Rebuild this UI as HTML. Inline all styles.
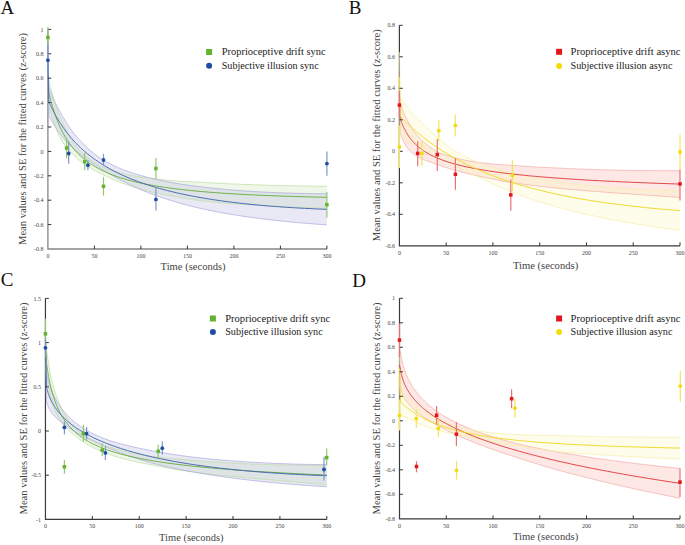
<!DOCTYPE html>
<html><head><meta charset="utf-8"><style>
html,body{margin:0;padding:0;background:#fff;}
svg{display:block;}
text{font-family:"Liberation Serif", serif;}
.tl{font-size:6px;fill:#444;}
.lg{font-size:11px;fill:#222;}
.al{font-size:10.5px;fill:#444;}
.pl{font-size:19px;fill:#111;}
</style></head><body>
<svg width="685" height="545" viewBox="0 0 685 545">
<rect width="685" height="545" fill="#fff"/>
<path d="M47.90,29.40 V249.00 H326.90" fill="none" stroke="#858585" stroke-width="1.3"/>
<polygon points="47.90,74.00 48.83,79.03 48.83,79.05 48.85,79.11 48.87,79.24 48.91,79.43 48.96,79.69 49.03,80.03 49.12,80.44 49.22,80.94 49.34,81.53 49.48,82.19 49.64,82.94 49.82,83.78 50.02,84.70 50.25,85.69 50.49,86.76 50.76,87.91 51.04,89.12 51.36,90.39 51.69,91.71 52.05,93.08 52.43,94.50 52.84,95.96 53.27,97.47 53.72,99.01 54.21,100.59 54.71,102.19 55.25,103.82 55.81,105.48 56.39,107.15 57.01,108.85 57.65,110.56 58.32,112.29 59.01,114.04 59.73,115.82 60.49,117.62 61.27,119.44 62.08,121.29 62.91,123.16 63.78,125.04 64.68,126.93 65.60,128.82 66.56,130.71 67.55,132.59 68.56,134.46 69.61,136.31 70.69,138.11 71.79,139.88 72.93,141.59 74.10,143.22 75.31,144.78 76.54,146.29 77.81,147.77 79.10,149.23 80.43,150.66 81.80,152.05 83.19,153.42 84.62,154.76 86.08,156.06 87.57,157.33 89.10,158.56 90.66,159.75 92.25,160.90 93.88,162.01 95.54,163.07 97.24,164.09 98.97,165.06 100.73,165.97 102.53,166.84 104.37,167.66 106.23,168.44 108.14,169.18 110.08,169.89 112.05,170.56 114.06,171.19 116.11,171.80 118.19,172.39 120.30,172.96 122.46,173.52 124.65,174.05 126.87,174.54 129.13,175.02 131.43,175.46 133.77,175.88 136.14,176.29 138.55,176.68 141.00,177.05 143.48,177.40 146.00,177.73 148.56,178.04 151.15,178.33 153.79,178.63 156.46,178.93 159.17,179.24 161.92,179.56 164.70,179.87 167.53,180.19 170.39,180.49 173.29,180.77 176.23,181.03 179.21,181.25 182.23,181.42 185.29,181.56 188.39,181.69 191.52,181.81 194.70,181.93 197.91,182.08 201.17,182.27 204.46,182.47 207.79,182.66 211.17,182.85 214.58,183.04 218.04,183.22 221.53,183.40 225.07,183.58 228.64,183.75 232.26,183.92 235.92,184.08 239.62,184.24 243.36,184.40 247.14,184.54 250.96,184.69 254.82,184.82 258.72,184.95 262.67,185.08 266.66,185.19 270.69,185.30 274.76,185.40 278.87,185.50 283.02,185.60 287.22,185.69 291.46,185.77 295.74,185.85 300.06,185.93 304.43,186.01 308.84,186.08 313.29,186.15 317.78,186.21 322.32,186.28 326.90,186.34 326.90,208.34 322.32,208.19 317.78,208.05 313.29,207.89 308.84,207.74 304.43,207.57 300.06,207.40 295.74,207.22 291.46,207.04 287.22,206.86 283.02,206.66 278.87,206.46 274.76,206.26 270.69,206.05 266.66,205.83 262.67,205.61 258.72,205.39 254.82,205.16 250.96,204.93 247.14,204.69 243.36,204.44 239.62,204.19 235.92,203.92 232.26,203.65 228.64,203.38 225.07,203.09 221.53,202.79 218.04,202.48 214.58,202.15 211.17,201.82 207.79,201.47 204.46,201.11 201.17,200.74 197.91,200.34 194.70,199.89 191.52,199.39 188.39,198.86 185.29,198.33 182.23,197.79 179.21,197.26 176.23,196.76 173.29,196.27 170.39,195.79 167.53,195.30 164.70,194.81 161.92,194.29 159.17,193.75 156.46,193.17 153.79,192.56 151.15,191.92 148.56,191.26 146.00,190.58 143.48,189.88 141.00,189.18 138.55,188.48 136.14,187.76 133.77,187.02 131.43,186.27 129.13,185.50 126.87,184.73 124.65,183.95 122.46,183.17 120.30,182.37 118.19,181.55 116.11,180.71 114.06,179.85 112.05,178.97 110.08,178.09 108.14,177.20 106.23,176.30 104.37,175.39 102.53,174.49 100.73,173.58 98.97,172.67 97.24,171.76 95.54,170.86 93.88,169.95 92.25,169.03 90.66,168.11 89.10,167.17 87.57,166.22 86.08,165.25 84.62,164.27 83.19,163.26 81.80,162.23 80.43,161.17 79.10,160.09 77.81,158.99 76.54,157.85 75.31,156.69 74.10,155.52 72.93,154.38 71.79,153.26 70.69,152.15 69.61,151.03 68.56,149.90 67.55,148.75 66.56,147.58 65.60,146.37 64.68,145.13 63.78,143.86 62.91,142.55 62.08,141.20 61.27,139.81 60.49,138.39 59.73,136.93 59.01,135.45 58.32,133.95 57.65,132.43 57.01,130.92 56.39,129.41 55.81,127.91 55.25,126.44 54.71,124.99 54.21,123.56 53.72,122.18 53.27,120.83 52.84,119.52 52.43,118.26 52.05,117.06 51.69,115.91 51.36,114.82 51.04,113.80 50.76,112.84 50.49,111.95 50.25,111.12 50.02,110.35 49.82,109.65 49.64,109.01 49.48,108.44 49.34,107.93 49.22,107.49 49.12,107.11 49.03,106.79 48.96,106.53 48.91,106.33 48.87,106.19 48.85,106.10 48.83,106.05 48.83,106.04 47.90,102.00" fill="rgb(205,225,178)" fill-opacity="0.3"/>
<polygon points="47.90,44.00 48.83,87.00 48.83,87.01 48.85,87.04 48.87,87.11 48.91,87.22 48.96,87.38 49.03,87.57 49.12,87.82 49.22,88.11 49.34,88.46 49.48,88.85 49.64,89.30 49.82,89.79 50.02,90.34 50.25,90.94 50.49,91.59 50.76,92.29 51.04,93.04 51.36,93.83 51.69,94.66 52.05,95.52 52.43,96.43 52.84,97.37 53.27,98.35 53.72,99.37 54.21,100.42 54.71,101.51 55.25,102.63 55.81,103.77 56.39,104.95 57.01,106.16 57.65,107.40 58.32,108.66 59.01,109.96 59.73,111.29 60.49,112.66 61.27,114.05 62.08,115.47 62.91,116.92 63.78,118.39 64.68,119.88 65.60,121.38 66.56,122.90 67.55,124.43 68.56,125.97 69.61,127.50 70.69,129.04 71.79,130.57 72.93,132.08 74.10,133.58 75.31,135.05 76.54,136.52 77.81,137.99 79.10,139.46 80.43,140.92 81.80,142.38 83.19,143.83 84.62,145.27 86.08,146.70 87.57,148.11 89.10,149.51 90.66,150.88 92.25,152.22 93.88,153.54 95.54,154.82 97.24,156.06 98.97,157.26 100.73,158.42 102.53,159.54 104.37,160.64 106.23,161.71 108.14,162.75 110.08,163.77 112.05,164.77 114.06,165.74 116.11,166.70 118.19,167.64 120.30,168.56 122.46,169.45 124.65,170.30 126.87,171.12 129.13,171.91 131.43,172.67 133.77,173.40 136.14,174.13 138.55,174.84 141.00,175.55 143.48,176.25 146.00,176.92 148.56,177.59 151.15,178.23 153.79,178.86 156.46,179.48 159.17,180.08 161.92,180.66 164.70,181.23 167.53,181.78 170.39,182.32 173.29,182.84 176.23,183.35 179.21,183.83 182.23,184.30 185.29,184.75 188.39,185.18 191.52,185.61 194.70,186.02 197.91,186.43 201.17,186.84 204.46,187.23 207.79,187.62 211.17,188.00 214.58,188.36 218.04,188.71 221.53,189.05 225.07,189.38 228.64,189.70 232.26,190.01 235.92,190.31 239.62,190.59 243.36,190.86 247.14,191.12 250.96,191.37 254.82,191.61 258.72,191.83 262.67,192.04 266.66,192.24 270.69,192.42 274.76,192.60 278.87,192.76 283.02,192.91 287.22,193.05 291.46,193.18 295.74,193.30 300.06,193.41 304.43,193.50 308.84,193.59 313.29,193.67 317.78,193.74 322.32,193.80 326.90,193.85 326.90,224.84 322.32,224.53 317.78,224.21 313.29,223.88 308.84,223.53 304.43,223.17 300.06,222.80 295.74,222.41 291.46,222.02 287.22,221.60 283.02,221.18 278.87,220.74 274.76,220.29 270.69,219.83 266.66,219.36 262.67,218.87 258.72,218.37 254.82,217.86 250.96,217.34 247.14,216.80 243.36,216.26 239.62,215.69 235.92,215.12 232.26,214.53 228.64,213.92 225.07,213.31 221.53,212.67 218.04,212.03 214.58,211.36 211.17,210.68 207.79,209.99 204.46,209.28 201.17,208.55 197.91,207.81 194.70,207.04 191.52,206.25 188.39,205.43 185.29,204.60 182.23,203.76 179.21,202.91 176.23,202.05 173.29,201.18 170.39,200.30 167.53,199.40 164.70,198.49 161.92,197.57 159.17,196.63 156.46,195.68 153.79,194.71 151.15,193.74 148.56,192.74 146.00,191.74 143.48,190.72 141.00,189.69 138.55,188.64 136.14,187.56 133.77,186.47 131.43,185.36 129.13,184.24 126.87,183.12 124.65,182.00 122.46,180.89 120.30,179.79 118.19,178.68 116.11,177.57 114.06,176.44 112.05,175.31 110.08,174.17 108.14,173.02 106.23,171.87 104.37,170.72 102.53,169.57 100.73,168.42 98.97,167.28 97.24,166.16 95.54,165.05 93.88,163.96 92.25,162.89 90.66,161.82 89.10,160.75 87.57,159.69 86.08,158.63 84.62,157.57 83.19,156.50 81.80,155.43 80.43,154.35 79.10,153.27 77.81,152.17 76.54,151.07 75.31,149.97 74.10,148.86 72.93,147.77 71.79,146.70 70.69,145.65 69.61,144.61 68.56,143.57 67.55,142.54 66.56,141.52 65.60,140.50 64.68,139.48 63.78,138.46 62.91,137.44 62.08,136.43 61.27,135.42 60.49,134.42 59.73,133.42 59.01,132.42 58.32,131.44 57.65,130.46 57.01,129.50 56.39,128.57 55.81,127.66 55.25,126.77 54.71,125.92 54.21,125.09 53.72,124.30 53.27,123.54 52.84,122.82 52.43,122.14 52.05,121.49 51.69,120.88 51.36,120.32 51.04,119.79 50.76,119.31 50.49,118.86 50.25,118.45 50.02,118.08 49.82,117.74 49.64,117.43 49.48,117.16 49.34,116.92 49.22,116.71 49.12,116.54 49.03,116.39 48.96,116.27 48.91,116.18 48.87,116.11 48.85,116.07 48.83,116.04 48.83,116.04 47.90,80.00" fill="rgb(182,182,225)" fill-opacity="0.3"/>
<polyline points="47.90,74.00 48.83,79.03 48.83,79.05 48.85,79.11 48.87,79.24 48.91,79.43 48.96,79.69 49.03,80.03 49.12,80.44 49.22,80.94 49.34,81.53 49.48,82.19 49.64,82.94 49.82,83.78 50.02,84.70 50.25,85.69 50.49,86.76 50.76,87.91 51.04,89.12 51.36,90.39 51.69,91.71 52.05,93.08 52.43,94.50 52.84,95.96 53.27,97.47 53.72,99.01 54.21,100.59 54.71,102.19 55.25,103.82 55.81,105.48 56.39,107.15 57.01,108.85 57.65,110.56 58.32,112.29 59.01,114.04 59.73,115.82 60.49,117.62 61.27,119.44 62.08,121.29 62.91,123.16 63.78,125.04 64.68,126.93 65.60,128.82 66.56,130.71 67.55,132.59 68.56,134.46 69.61,136.31 70.69,138.11 71.79,139.88 72.93,141.59 74.10,143.22 75.31,144.78 76.54,146.29 77.81,147.77 79.10,149.23 80.43,150.66 81.80,152.05 83.19,153.42 84.62,154.76 86.08,156.06 87.57,157.33 89.10,158.56 90.66,159.75 92.25,160.90 93.88,162.01 95.54,163.07 97.24,164.09 98.97,165.06 100.73,165.97 102.53,166.84 104.37,167.66 106.23,168.44 108.14,169.18 110.08,169.89 112.05,170.56 114.06,171.19 116.11,171.80 118.19,172.39 120.30,172.96 122.46,173.52 124.65,174.05 126.87,174.54 129.13,175.02 131.43,175.46 133.77,175.88 136.14,176.29 138.55,176.68 141.00,177.05 143.48,177.40 146.00,177.73 148.56,178.04 151.15,178.33 153.79,178.63 156.46,178.93 159.17,179.24 161.92,179.56 164.70,179.87 167.53,180.19 170.39,180.49 173.29,180.77 176.23,181.03 179.21,181.25 182.23,181.42 185.29,181.56 188.39,181.69 191.52,181.81 194.70,181.93 197.91,182.08 201.17,182.27 204.46,182.47 207.79,182.66 211.17,182.85 214.58,183.04 218.04,183.22 221.53,183.40 225.07,183.58 228.64,183.75 232.26,183.92 235.92,184.08 239.62,184.24 243.36,184.40 247.14,184.54 250.96,184.69 254.82,184.82 258.72,184.95 262.67,185.08 266.66,185.19 270.69,185.30 274.76,185.40 278.87,185.50 283.02,185.60 287.22,185.69 291.46,185.77 295.74,185.85 300.06,185.93 304.43,186.01 308.84,186.08 313.29,186.15 317.78,186.21 322.32,186.28 326.90,186.34" fill="none" stroke="#bcdca4" stroke-width="0.7"/>
<polyline points="47.90,102.00 48.83,106.04 48.83,106.05 48.85,106.10 48.87,106.19 48.91,106.33 48.96,106.53 49.03,106.79 49.12,107.11 49.22,107.49 49.34,107.93 49.48,108.44 49.64,109.01 49.82,109.65 50.02,110.35 50.25,111.12 50.49,111.95 50.76,112.84 51.04,113.80 51.36,114.82 51.69,115.91 52.05,117.06 52.43,118.26 52.84,119.52 53.27,120.83 53.72,122.18 54.21,123.56 54.71,124.99 55.25,126.44 55.81,127.91 56.39,129.41 57.01,130.92 57.65,132.43 58.32,133.95 59.01,135.45 59.73,136.93 60.49,138.39 61.27,139.81 62.08,141.20 62.91,142.55 63.78,143.86 64.68,145.13 65.60,146.37 66.56,147.58 67.55,148.75 68.56,149.90 69.61,151.03 70.69,152.15 71.79,153.26 72.93,154.38 74.10,155.52 75.31,156.69 76.54,157.85 77.81,158.99 79.10,160.09 80.43,161.17 81.80,162.23 83.19,163.26 84.62,164.27 86.08,165.25 87.57,166.22 89.10,167.17 90.66,168.11 92.25,169.03 93.88,169.95 95.54,170.86 97.24,171.76 98.97,172.67 100.73,173.58 102.53,174.49 104.37,175.39 106.23,176.30 108.14,177.20 110.08,178.09 112.05,178.97 114.06,179.85 116.11,180.71 118.19,181.55 120.30,182.37 122.46,183.17 124.65,183.95 126.87,184.73 129.13,185.50 131.43,186.27 133.77,187.02 136.14,187.76 138.55,188.48 141.00,189.18 143.48,189.88 146.00,190.58 148.56,191.26 151.15,191.92 153.79,192.56 156.46,193.17 159.17,193.75 161.92,194.29 164.70,194.81 167.53,195.30 170.39,195.79 173.29,196.27 176.23,196.76 179.21,197.26 182.23,197.79 185.29,198.33 188.39,198.86 191.52,199.39 194.70,199.89 197.91,200.34 201.17,200.74 204.46,201.11 207.79,201.47 211.17,201.82 214.58,202.15 218.04,202.48 221.53,202.79 225.07,203.09 228.64,203.38 232.26,203.65 235.92,203.92 239.62,204.19 243.36,204.44 247.14,204.69 250.96,204.93 254.82,205.16 258.72,205.39 262.67,205.61 266.66,205.83 270.69,206.05 274.76,206.26 278.87,206.46 283.02,206.66 287.22,206.86 291.46,207.04 295.74,207.22 300.06,207.40 304.43,207.57 308.84,207.74 313.29,207.89 317.78,208.05 322.32,208.19 326.90,208.34" fill="none" stroke="#bcdca4" stroke-width="0.7"/>
<polyline points="47.90,44.00 48.83,87.00 48.83,87.01 48.85,87.04 48.87,87.11 48.91,87.22 48.96,87.38 49.03,87.57 49.12,87.82 49.22,88.11 49.34,88.46 49.48,88.85 49.64,89.30 49.82,89.79 50.02,90.34 50.25,90.94 50.49,91.59 50.76,92.29 51.04,93.04 51.36,93.83 51.69,94.66 52.05,95.52 52.43,96.43 52.84,97.37 53.27,98.35 53.72,99.37 54.21,100.42 54.71,101.51 55.25,102.63 55.81,103.77 56.39,104.95 57.01,106.16 57.65,107.40 58.32,108.66 59.01,109.96 59.73,111.29 60.49,112.66 61.27,114.05 62.08,115.47 62.91,116.92 63.78,118.39 64.68,119.88 65.60,121.38 66.56,122.90 67.55,124.43 68.56,125.97 69.61,127.50 70.69,129.04 71.79,130.57 72.93,132.08 74.10,133.58 75.31,135.05 76.54,136.52 77.81,137.99 79.10,139.46 80.43,140.92 81.80,142.38 83.19,143.83 84.62,145.27 86.08,146.70 87.57,148.11 89.10,149.51 90.66,150.88 92.25,152.22 93.88,153.54 95.54,154.82 97.24,156.06 98.97,157.26 100.73,158.42 102.53,159.54 104.37,160.64 106.23,161.71 108.14,162.75 110.08,163.77 112.05,164.77 114.06,165.74 116.11,166.70 118.19,167.64 120.30,168.56 122.46,169.45 124.65,170.30 126.87,171.12 129.13,171.91 131.43,172.67 133.77,173.40 136.14,174.13 138.55,174.84 141.00,175.55 143.48,176.25 146.00,176.92 148.56,177.59 151.15,178.23 153.79,178.86 156.46,179.48 159.17,180.08 161.92,180.66 164.70,181.23 167.53,181.78 170.39,182.32 173.29,182.84 176.23,183.35 179.21,183.83 182.23,184.30 185.29,184.75 188.39,185.18 191.52,185.61 194.70,186.02 197.91,186.43 201.17,186.84 204.46,187.23 207.79,187.62 211.17,188.00 214.58,188.36 218.04,188.71 221.53,189.05 225.07,189.38 228.64,189.70 232.26,190.01 235.92,190.31 239.62,190.59 243.36,190.86 247.14,191.12 250.96,191.37 254.82,191.61 258.72,191.83 262.67,192.04 266.66,192.24 270.69,192.42 274.76,192.60 278.87,192.76 283.02,192.91 287.22,193.05 291.46,193.18 295.74,193.30 300.06,193.41 304.43,193.50 308.84,193.59 313.29,193.67 317.78,193.74 322.32,193.80 326.90,193.85" fill="none" stroke="#a8a8dc" stroke-width="0.7"/>
<polyline points="47.90,80.00 48.83,116.04 48.83,116.04 48.85,116.07 48.87,116.11 48.91,116.18 48.96,116.27 49.03,116.39 49.12,116.54 49.22,116.71 49.34,116.92 49.48,117.16 49.64,117.43 49.82,117.74 50.02,118.08 50.25,118.45 50.49,118.86 50.76,119.31 51.04,119.79 51.36,120.32 51.69,120.88 52.05,121.49 52.43,122.14 52.84,122.82 53.27,123.54 53.72,124.30 54.21,125.09 54.71,125.92 55.25,126.77 55.81,127.66 56.39,128.57 57.01,129.50 57.65,130.46 58.32,131.44 59.01,132.42 59.73,133.42 60.49,134.42 61.27,135.42 62.08,136.43 62.91,137.44 63.78,138.46 64.68,139.48 65.60,140.50 66.56,141.52 67.55,142.54 68.56,143.57 69.61,144.61 70.69,145.65 71.79,146.70 72.93,147.77 74.10,148.86 75.31,149.97 76.54,151.07 77.81,152.17 79.10,153.27 80.43,154.35 81.80,155.43 83.19,156.50 84.62,157.57 86.08,158.63 87.57,159.69 89.10,160.75 90.66,161.82 92.25,162.89 93.88,163.96 95.54,165.05 97.24,166.16 98.97,167.28 100.73,168.42 102.53,169.57 104.37,170.72 106.23,171.87 108.14,173.02 110.08,174.17 112.05,175.31 114.06,176.44 116.11,177.57 118.19,178.68 120.30,179.79 122.46,180.89 124.65,182.00 126.87,183.12 129.13,184.24 131.43,185.36 133.77,186.47 136.14,187.56 138.55,188.64 141.00,189.69 143.48,190.72 146.00,191.74 148.56,192.74 151.15,193.74 153.79,194.71 156.46,195.68 159.17,196.63 161.92,197.57 164.70,198.49 167.53,199.40 170.39,200.30 173.29,201.18 176.23,202.05 179.21,202.91 182.23,203.76 185.29,204.60 188.39,205.43 191.52,206.25 194.70,207.04 197.91,207.81 201.17,208.55 204.46,209.28 207.79,209.99 211.17,210.68 214.58,211.36 218.04,212.03 221.53,212.67 225.07,213.31 228.64,213.92 232.26,214.53 235.92,215.12 239.62,215.69 243.36,216.26 247.14,216.80 250.96,217.34 254.82,217.86 258.72,218.37 262.67,218.87 266.66,219.36 270.69,219.83 274.76,220.29 278.87,220.74 283.02,221.18 287.22,221.60 291.46,222.02 295.74,222.41 300.06,222.80 304.43,223.17 308.84,223.53 313.29,223.88 317.78,224.21 322.32,224.53 326.90,224.84" fill="none" stroke="#a8a8dc" stroke-width="0.7"/>
<polyline points="47.90,88.00 48.83,92.53 48.83,92.55 48.85,92.60 48.87,92.71 48.91,92.88 48.96,93.11 49.03,93.41 49.12,93.78 49.22,94.22 49.34,94.73 49.48,95.32 49.64,95.98 49.82,96.71 50.02,97.52 50.25,98.40 50.49,99.36 50.76,100.37 51.04,101.46 51.36,102.60 51.69,103.81 52.05,105.07 52.43,106.38 52.84,107.74 53.27,109.15 53.72,110.59 54.21,112.08 54.71,113.59 55.25,115.13 55.81,116.70 56.39,118.28 57.01,119.88 57.65,121.50 58.32,123.12 59.01,124.75 59.73,126.38 60.49,128.00 61.27,129.63 62.08,131.24 62.91,132.85 63.78,134.45 64.68,136.03 65.60,137.60 66.56,139.14 67.55,140.67 68.56,142.18 69.61,143.67 70.69,145.13 71.79,146.57 72.93,147.98 74.10,149.37 75.31,150.73 76.54,152.07 77.81,153.38 79.10,154.66 80.43,155.91 81.80,157.14 83.19,158.34 84.62,159.51 86.08,160.66 87.57,161.77 89.10,162.86 90.66,163.93 92.25,164.97 93.88,165.98 95.54,166.97 97.24,167.93 98.97,168.86 100.73,169.78 102.53,170.66 104.37,171.53 106.23,172.37 108.14,173.19 110.08,173.99 112.05,174.76 114.06,175.52 116.11,176.25 118.19,176.97 120.30,177.66 122.46,178.34 124.65,179.00 126.87,179.64 129.13,180.26 131.43,180.86 133.77,181.45 136.14,182.02 138.55,182.58 141.00,183.12 143.48,183.64 146.00,184.15 148.56,184.65 151.15,185.13 153.79,185.60 156.46,186.05 159.17,186.49 161.92,186.92 164.70,187.34 167.53,187.75 170.39,188.14 173.29,188.52 176.23,188.89 179.21,189.25 182.23,189.60 185.29,189.95 188.39,190.28 191.52,190.60 194.70,190.91 197.91,191.21 201.17,191.50 204.46,191.79 207.79,192.07 211.17,192.34 214.58,192.60 218.04,192.85 221.53,193.09 225.07,193.33 228.64,193.56 232.26,193.79 235.92,194.00 239.62,194.21 243.36,194.42 247.14,194.62 250.96,194.81 254.82,194.99 258.72,195.17 262.67,195.34 266.66,195.51 270.69,195.67 274.76,195.83 278.87,195.98 283.02,196.13 287.22,196.27 291.46,196.41 295.74,196.54 300.06,196.67 304.43,196.79 308.84,196.91 313.29,197.02 317.78,197.13 322.32,197.24 326.90,197.34" fill="none" stroke="#6cb248" stroke-width="1.0" stroke-linejoin="round"/>
<polyline points="47.90,62.00 48.83,101.52 48.83,101.52 48.85,101.55 48.87,101.61 48.91,101.70 48.96,101.82 49.03,101.98 49.12,102.18 49.22,102.41 49.34,102.69 49.48,103.01 49.64,103.37 49.82,103.77 50.02,104.21 50.25,104.70 50.49,105.23 50.76,105.80 51.04,106.42 51.36,107.07 51.69,107.77 52.05,108.51 52.43,109.28 52.84,110.10 53.27,110.95 53.72,111.84 54.21,112.76 54.71,113.71 55.25,114.70 55.81,115.72 56.39,116.76 57.01,117.83 57.65,118.93 58.32,120.05 59.01,121.19 59.73,122.36 60.49,123.54 61.27,124.74 62.08,125.95 62.91,127.18 63.78,128.42 64.68,129.68 65.60,130.94 66.56,132.21 67.55,133.49 68.56,134.77 69.61,136.06 70.69,137.35 71.79,138.64 72.93,139.93 74.10,141.22 75.31,142.51 76.54,143.80 77.81,145.08 79.10,146.36 80.43,147.63 81.80,148.90 83.19,150.16 84.62,151.42 86.08,152.66 87.57,153.90 89.10,155.13 90.66,156.35 92.25,157.55 93.88,158.75 95.54,159.94 97.24,161.11 98.97,162.27 100.73,163.42 102.53,164.56 104.37,165.68 106.23,166.79 108.14,167.89 110.08,168.97 112.05,170.04 114.06,171.09 116.11,172.13 118.19,173.16 120.30,174.17 122.46,175.17 124.65,176.15 126.87,177.12 129.13,178.07 131.43,179.01 133.77,179.94 136.14,180.85 138.55,181.74 141.00,182.62 143.48,183.48 146.00,184.33 148.56,185.17 151.15,185.98 153.79,186.79 156.46,187.58 159.17,188.35 161.92,189.11 164.70,189.86 167.53,190.59 170.39,191.31 173.29,192.01 176.23,192.70 179.21,193.37 182.23,194.03 185.29,194.68 188.39,195.31 191.52,195.93 194.70,196.53 197.91,197.12 201.17,197.69 204.46,198.26 207.79,198.80 211.17,199.34 214.58,199.86 218.04,200.37 221.53,200.86 225.07,201.35 228.64,201.81 232.26,202.27 235.92,202.71 239.62,203.14 243.36,203.56 247.14,203.96 250.96,204.35 254.82,204.73 258.72,205.10 262.67,205.46 266.66,205.80 270.69,206.13 274.76,206.45 278.87,206.75 283.02,207.05 287.22,207.33 291.46,207.60 295.74,207.86 300.06,208.10 304.43,208.34 308.84,208.56 313.29,208.77 317.78,208.98 322.32,209.17 326.90,209.34" fill="none" stroke="#4a6cb3" stroke-width="1.0" stroke-linejoin="round"/>
<text x="43.50" y="31.50" text-anchor="end" class="tl">1</text>
<text x="43.50" y="55.90" text-anchor="end" class="tl">0.8</text>
<text x="43.50" y="80.30" text-anchor="end" class="tl">0.6</text>
<text x="43.50" y="104.70" text-anchor="end" class="tl">0.4</text>
<text x="43.50" y="129.10" text-anchor="end" class="tl">0.2</text>
<text x="43.50" y="153.50" text-anchor="end" class="tl">0</text>
<text x="43.50" y="177.90" text-anchor="end" class="tl">-0.2</text>
<text x="43.50" y="202.30" text-anchor="end" class="tl">-0.4</text>
<text x="43.50" y="226.70" text-anchor="end" class="tl">-0.6</text>
<text x="43.50" y="251.10" text-anchor="end" class="tl">-0.8</text>
<text x="47.90" y="257.90" text-anchor="middle" class="tl">0</text>
<text x="94.40" y="257.90" text-anchor="middle" class="tl">50</text>
<text x="140.90" y="257.90" text-anchor="middle" class="tl">100</text>
<text x="187.40" y="257.90" text-anchor="middle" class="tl">150</text>
<text x="233.90" y="257.90" text-anchor="middle" class="tl">200</text>
<text x="280.40" y="257.90" text-anchor="middle" class="tl">250</text>
<text x="326.90" y="257.90" text-anchor="middle" class="tl">300</text>
<path d="M47.90,29.40 h3.4 M47.90,53.80 h3.4 M47.90,78.20 h3.4 M47.90,102.60 h3.4 M47.90,127.00 h3.4 M47.90,151.40 h3.4 M47.90,175.80 h3.4 M47.90,200.20 h3.4 M47.90,224.60 h3.4 M94.40,249.00 v-3.4 M140.90,249.00 v-3.4 M187.40,249.00 v-3.4 M233.90,249.00 v-3.4 M280.40,249.00 v-3.4 M326.90,249.00 v-3.4" stroke="#333" stroke-width="1" fill="none"/>
<line x1="47.90" y1="27.00" x2="47.90" y2="45.60" stroke="#8fc870" stroke-width="1.2"/>
<line x1="66.60" y1="138.00" x2="66.60" y2="158.30" stroke="#8fc870" stroke-width="1.2"/>
<line x1="84.70" y1="152.80" x2="84.70" y2="170.20" stroke="#8fc870" stroke-width="1.2"/>
<line x1="103.50" y1="177.20" x2="103.50" y2="195.60" stroke="#8fc870" stroke-width="1.2"/>
<line x1="155.90" y1="158.10" x2="155.90" y2="178.60" stroke="#8fc870" stroke-width="1.2"/>
<line x1="326.90" y1="192.10" x2="326.90" y2="217.40" stroke="#8fc870" stroke-width="1.2"/>
<line x1="47.90" y1="45.60" x2="47.90" y2="75.00" stroke="#7c97cc" stroke-width="1.2"/>
<line x1="68.70" y1="141.40" x2="68.70" y2="163.80" stroke="#7c97cc" stroke-width="1.2"/>
<line x1="87.90" y1="160.10" x2="87.90" y2="170.20" stroke="#7c97cc" stroke-width="1.2"/>
<line x1="103.50" y1="153.80" x2="103.50" y2="166.00" stroke="#7c97cc" stroke-width="1.2"/>
<line x1="155.90" y1="187.90" x2="155.90" y2="210.40" stroke="#7c97cc" stroke-width="1.2"/>
<line x1="326.90" y1="151.60" x2="326.90" y2="175.70" stroke="#7c97cc" stroke-width="1.2"/>
<rect x="46.15" y="35.65" width="3.5" height="3.5" fill="#63b32e"/>
<rect x="64.85" y="146.25" width="3.5" height="3.5" fill="#63b32e"/>
<rect x="82.95" y="159.85" width="3.5" height="3.5" fill="#63b32e"/>
<rect x="101.75" y="184.55" width="3.5" height="3.5" fill="#63b32e"/>
<rect x="154.15" y="166.75" width="3.5" height="3.5" fill="#63b32e"/>
<rect x="325.15" y="202.95" width="3.5" height="3.5" fill="#63b32e"/>
<circle cx="47.90" cy="60.20" r="1.9" fill="#1f4da5"/>
<circle cx="68.70" cy="153.50" r="1.9" fill="#1f4da5"/>
<circle cx="87.90" cy="165.20" r="1.9" fill="#1f4da5"/>
<circle cx="103.50" cy="160.00" r="1.9" fill="#1f4da5"/>
<circle cx="155.90" cy="199.40" r="1.9" fill="#1f4da5"/>
<circle cx="326.90" cy="163.60" r="1.9" fill="#1f4da5"/>
<rect x="206.10" y="49.00" width="6" height="6" fill="#63b32e"/>
<text x="221.70" y="55.10" class="lg" textLength="104" lengthAdjust="spacingAndGlyphs">Proprioceptive drift sync</text>
<circle cx="209.10" cy="65.80" r="3" fill="#1f4da5"/>
<text x="221.70" y="68.90" class="lg" textLength="97" lengthAdjust="spacingAndGlyphs">Subjective illusion sync</text>
<text x="160.60" y="270.00" class="al" textLength="65" lengthAdjust="spacingAndGlyphs">Time (seconds)</text>
<text transform="translate(26.00,245.00) rotate(-90)" class="al" textLength="212" lengthAdjust="spacingAndGlyphs">Mean values and SE for the fitted curves (z-score)</text>
<text x="0.60" y="14.20" class="pl">A</text>
<path d="M399.40,25.30 V245.80 H680.00" fill="none" stroke="#3a3a3a" stroke-width="1.2"/>
<polygon points="399.40,87.00 400.33,103.82 400.33,103.83 400.35,103.87 400.37,103.94 400.41,104.06 400.46,104.23 400.53,104.44 400.62,104.70 400.72,105.01 400.85,105.37 400.99,105.79 401.15,106.25 401.33,106.77 401.53,107.33 401.75,107.94 402.00,108.60 402.27,109.30 402.56,110.04 402.87,110.82 403.21,111.64 403.57,112.49 403.95,113.38 404.36,114.29 404.79,115.23 405.25,116.20 405.74,117.18 406.25,118.19 406.78,119.21 407.35,120.25 407.94,121.32 408.55,122.44 409.20,123.59 409.87,124.76 410.57,125.96 411.30,127.17 412.05,128.38 412.84,129.59 413.65,130.77 414.49,131.92 415.37,133.06 416.27,134.19 417.20,135.32 418.16,136.44 419.15,137.54 420.18,138.63 421.23,139.69 422.31,140.73 423.43,141.74 424.57,142.75 425.75,143.76 426.96,144.76 428.20,145.76 429.47,146.74 430.78,147.70 432.11,148.64 433.48,149.54 434.89,150.40 436.32,151.22 437.79,151.97 439.29,152.65 440.83,153.26 442.40,153.85 444.00,154.42 445.64,154.98 447.31,155.53 449.02,156.07 450.76,156.59 452.53,157.10 454.34,157.60 456.19,158.09 458.06,158.57 459.98,159.04 461.93,159.49 463.91,159.92 465.94,160.34 467.99,160.74 470.09,161.12 472.22,161.48 474.38,161.83 476.58,162.16 478.82,162.48 481.10,162.78 483.41,163.07 485.76,163.34 488.14,163.61 490.57,163.87 493.03,164.09 495.52,164.27 498.06,164.42 500.63,164.57 503.24,164.74 505.89,164.93 508.58,165.13 511.30,165.33 514.07,165.53 516.87,165.73 519.71,165.92 522.59,166.12 525.51,166.32 528.47,166.51 531.46,166.69 534.50,166.88 537.57,167.05 540.69,167.23 543.84,167.39 547.04,167.56 550.27,167.72 553.54,167.88 556.86,168.04 560.21,168.19 563.60,168.34 567.04,168.49 570.51,168.64 574.03,168.79 577.58,168.94 581.18,169.08 584.82,169.23 588.50,169.37 592.21,169.50 595.98,169.62 599.78,169.73 603.62,169.84 607.51,169.94 611.43,170.04 615.40,170.12 619.41,170.21 623.46,170.28 627.56,170.35 631.69,170.42 635.87,170.48 640.09,170.53 644.36,170.57 648.66,170.61 653.01,170.64 657.40,170.67 661.83,170.69 666.31,170.70 670.83,170.70 675.39,170.70 680.00,170.69 680.00,197.49 675.39,197.17 670.83,196.85 666.31,196.54 661.83,196.23 657.40,195.92 653.01,195.62 648.66,195.32 644.36,195.02 640.09,194.72 635.87,194.42 631.69,194.12 627.56,193.82 623.46,193.53 619.41,193.23 615.40,192.94 611.43,192.64 607.51,192.35 603.62,192.06 599.78,191.76 595.98,191.47 592.21,191.17 588.50,190.89 584.82,190.60 581.18,190.31 577.58,190.02 574.03,189.72 570.51,189.42 567.04,189.10 563.60,188.78 560.21,188.46 556.86,188.13 553.54,187.79 550.27,187.45 547.04,187.10 543.84,186.75 540.69,186.39 537.57,186.03 534.50,185.66 531.46,185.29 528.47,184.91 525.51,184.53 522.59,184.14 519.71,183.74 516.87,183.34 514.07,182.92 511.30,182.50 508.58,182.06 505.89,181.61 503.24,181.14 500.63,180.63 498.06,180.10 495.52,179.56 493.03,179.03 490.57,178.52 488.14,178.04 485.76,177.56 483.41,177.07 481.10,176.58 478.82,176.09 476.58,175.59 474.38,175.10 472.22,174.60 470.09,174.11 467.99,173.61 465.94,173.12 463.91,172.62 461.93,172.13 459.98,171.64 458.06,171.14 456.19,170.63 454.34,170.12 452.53,169.59 450.76,169.06 449.02,168.52 447.31,167.96 445.64,167.40 444.00,166.83 442.40,166.25 440.83,165.66 439.29,165.07 437.79,164.52 436.32,164.02 434.89,163.56 433.48,163.12 432.11,162.70 430.78,162.28 429.47,161.87 428.20,161.44 426.96,161.00 425.75,160.55 424.57,160.07 423.43,159.56 422.31,159.03 421.23,158.51 420.18,157.98 419.15,157.45 418.16,156.90 417.20,156.35 416.27,155.78 415.37,155.20 414.49,154.61 413.65,153.99 412.84,153.40 412.05,152.81 411.30,152.21 410.57,151.59 409.87,150.96 409.20,150.29 408.55,149.59 407.94,148.86 407.35,148.09 406.78,147.30 406.25,146.49 405.74,145.69 405.25,144.89 404.79,144.09 404.36,143.30 403.95,142.53 403.57,141.77 403.21,141.02 402.87,140.30 402.56,139.60 402.27,138.93 402.00,138.29 401.75,137.69 401.53,137.12 401.33,136.60 401.15,136.12 400.99,135.68 400.85,135.28 400.72,134.94 400.62,134.64 400.53,134.39 400.46,134.19 400.41,134.03 400.37,133.91 400.35,133.84 400.33,133.80 400.33,133.79 399.40,103.00" fill="rgb(249,178,172)" fill-opacity="0.3"/>
<polygon points="399.40,52.00 400.33,96.77 400.33,96.78 400.35,96.80 400.37,96.84 400.41,96.90 400.46,96.98 400.53,97.09 400.62,97.23 400.72,97.39 400.85,97.59 400.99,97.81 401.15,98.06 401.33,98.34 401.53,98.66 401.75,99.00 402.00,99.38 402.27,99.80 402.56,100.24 402.87,100.72 403.21,101.23 403.57,101.77 403.95,102.34 404.36,102.95 404.79,103.58 405.25,104.24 405.74,104.93 406.25,105.65 406.78,106.39 407.35,107.15 407.94,107.93 408.55,108.72 409.20,109.52 409.87,110.34 410.57,111.16 411.30,111.99 412.05,112.84 412.84,113.71 413.65,114.59 414.49,115.48 415.37,116.39 416.27,117.31 417.20,118.25 418.16,119.20 419.15,120.17 420.18,121.15 421.23,122.16 422.31,123.18 423.43,124.23 424.57,125.31 425.75,126.42 426.96,127.57 428.20,128.76 429.47,129.99 430.78,131.25 432.11,132.54 433.48,133.86 434.89,135.18 436.32,136.51 437.79,137.83 439.29,139.12 440.83,140.39 442.40,141.66 444.00,142.93 445.64,144.21 447.31,145.48 449.02,146.73 450.76,147.96 452.53,149.17 454.34,150.33 456.19,151.45 458.06,152.57 459.98,153.68 461.93,154.78 463.91,155.86 465.94,156.93 467.99,157.98 470.09,159.00 472.22,159.98 474.38,160.93 476.58,161.85 478.82,162.73 481.10,163.59 483.41,164.43 485.76,165.25 488.14,166.06 490.57,166.86 493.03,167.65 495.52,168.42 498.06,169.15 500.63,169.86 503.24,170.55 505.89,171.23 508.58,171.91 511.30,172.59 514.07,173.26 516.87,173.92 519.71,174.57 522.59,175.20 525.51,175.83 528.47,176.45 531.46,177.05 534.50,177.65 537.57,178.23 540.69,178.81 543.84,179.38 547.04,179.94 550.27,180.49 553.54,181.03 556.86,181.56 560.21,182.07 563.60,182.57 567.04,183.05 570.51,183.51 574.03,183.95 577.58,184.38 581.18,184.78 584.82,185.18 588.50,185.56 592.21,185.93 595.98,186.29 599.78,186.65 603.62,186.99 607.51,187.31 611.43,187.63 615.40,187.93 619.41,188.21 623.46,188.49 627.56,188.75 631.69,189.00 635.87,189.24 640.09,189.46 644.36,189.68 648.66,189.88 653.01,190.07 657.40,190.25 661.83,190.43 666.31,190.59 670.83,190.74 675.39,190.88 680.00,191.01 680.00,230.21 675.39,229.63 670.83,229.05 666.31,228.45 661.83,227.83 657.40,227.21 653.01,226.57 648.66,225.92 644.36,225.26 640.09,224.58 635.87,223.90 631.69,223.20 627.56,222.49 623.46,221.77 619.41,221.04 615.40,220.29 611.43,219.54 607.51,218.77 603.62,218.00 599.78,217.21 595.98,216.41 592.21,215.60 588.50,214.77 584.82,213.92 581.18,213.07 577.58,212.20 574.03,211.33 570.51,210.45 567.04,209.56 563.60,208.67 560.21,207.78 556.86,206.87 553.54,205.95 550.27,205.02 547.04,204.08 543.84,203.13 540.69,202.16 537.57,201.18 534.50,200.18 531.46,199.17 528.47,198.15 525.51,197.11 522.59,196.07 519.71,195.01 516.87,193.95 514.07,192.87 511.30,191.79 508.58,190.69 505.89,189.57 503.24,188.44 500.63,187.31 498.06,186.17 495.52,185.03 493.03,183.91 490.57,182.81 488.14,181.70 485.76,180.58 483.41,179.46 481.10,178.34 478.82,177.24 476.58,176.14 474.38,175.07 472.22,174.02 470.09,173.00 467.99,172.00 465.94,171.03 463.91,170.07 461.93,169.12 459.98,168.18 458.06,167.25 456.19,166.33 454.34,165.40 452.53,164.52 450.76,163.68 449.02,162.88 447.31,162.09 445.64,161.33 444.00,160.58 442.40,159.84 440.83,159.10 439.29,158.37 437.79,157.68 436.32,157.02 434.89,156.39 433.48,155.76 432.11,155.15 430.78,154.53 429.47,153.90 428.20,153.25 426.96,152.59 425.75,151.90 424.57,151.20 423.43,150.50 422.31,149.79 421.23,149.09 420.18,148.40 419.15,147.71 418.16,147.04 417.20,146.38 416.27,145.74 415.37,145.12 414.49,144.52 413.65,143.94 412.84,143.38 412.05,142.85 411.30,142.35 410.57,141.86 409.87,141.41 409.20,140.98 408.55,140.59 407.94,140.23 407.35,139.90 406.78,139.59 406.25,139.30 405.74,139.03 405.25,138.79 404.79,138.56 404.36,138.34 403.95,138.14 403.57,137.95 403.21,137.78 402.87,137.62 402.56,137.47 402.27,137.33 402.00,137.21 401.75,137.09 401.53,136.98 401.33,136.89 401.15,136.80 400.99,136.72 400.85,136.66 400.72,136.60 400.62,136.55 400.53,136.51 400.46,136.47 400.41,136.45 400.37,136.43 400.35,136.42 400.33,136.41 400.33,136.41 399.40,102.00" fill="rgb(252,248,188)" fill-opacity="0.3"/>
<polyline points="399.40,87.00 400.33,103.82 400.33,103.83 400.35,103.87 400.37,103.94 400.41,104.06 400.46,104.23 400.53,104.44 400.62,104.70 400.72,105.01 400.85,105.37 400.99,105.79 401.15,106.25 401.33,106.77 401.53,107.33 401.75,107.94 402.00,108.60 402.27,109.30 402.56,110.04 402.87,110.82 403.21,111.64 403.57,112.49 403.95,113.38 404.36,114.29 404.79,115.23 405.25,116.20 405.74,117.18 406.25,118.19 406.78,119.21 407.35,120.25 407.94,121.32 408.55,122.44 409.20,123.59 409.87,124.76 410.57,125.96 411.30,127.17 412.05,128.38 412.84,129.59 413.65,130.77 414.49,131.92 415.37,133.06 416.27,134.19 417.20,135.32 418.16,136.44 419.15,137.54 420.18,138.63 421.23,139.69 422.31,140.73 423.43,141.74 424.57,142.75 425.75,143.76 426.96,144.76 428.20,145.76 429.47,146.74 430.78,147.70 432.11,148.64 433.48,149.54 434.89,150.40 436.32,151.22 437.79,151.97 439.29,152.65 440.83,153.26 442.40,153.85 444.00,154.42 445.64,154.98 447.31,155.53 449.02,156.07 450.76,156.59 452.53,157.10 454.34,157.60 456.19,158.09 458.06,158.57 459.98,159.04 461.93,159.49 463.91,159.92 465.94,160.34 467.99,160.74 470.09,161.12 472.22,161.48 474.38,161.83 476.58,162.16 478.82,162.48 481.10,162.78 483.41,163.07 485.76,163.34 488.14,163.61 490.57,163.87 493.03,164.09 495.52,164.27 498.06,164.42 500.63,164.57 503.24,164.74 505.89,164.93 508.58,165.13 511.30,165.33 514.07,165.53 516.87,165.73 519.71,165.92 522.59,166.12 525.51,166.32 528.47,166.51 531.46,166.69 534.50,166.88 537.57,167.05 540.69,167.23 543.84,167.39 547.04,167.56 550.27,167.72 553.54,167.88 556.86,168.04 560.21,168.19 563.60,168.34 567.04,168.49 570.51,168.64 574.03,168.79 577.58,168.94 581.18,169.08 584.82,169.23 588.50,169.37 592.21,169.50 595.98,169.62 599.78,169.73 603.62,169.84 607.51,169.94 611.43,170.04 615.40,170.12 619.41,170.21 623.46,170.28 627.56,170.35 631.69,170.42 635.87,170.48 640.09,170.53 644.36,170.57 648.66,170.61 653.01,170.64 657.40,170.67 661.83,170.69 666.31,170.70 670.83,170.70 675.39,170.70 680.00,170.69" fill="none" stroke="#f2aaa6" stroke-width="0.7"/>
<polyline points="399.40,103.00 400.33,133.79 400.33,133.80 400.35,133.84 400.37,133.91 400.41,134.03 400.46,134.19 400.53,134.39 400.62,134.64 400.72,134.94 400.85,135.28 400.99,135.68 401.15,136.12 401.33,136.60 401.53,137.12 401.75,137.69 402.00,138.29 402.27,138.93 402.56,139.60 402.87,140.30 403.21,141.02 403.57,141.77 403.95,142.53 404.36,143.30 404.79,144.09 405.25,144.89 405.74,145.69 406.25,146.49 406.78,147.30 407.35,148.09 407.94,148.86 408.55,149.59 409.20,150.29 409.87,150.96 410.57,151.59 411.30,152.21 412.05,152.81 412.84,153.40 413.65,153.99 414.49,154.61 415.37,155.20 416.27,155.78 417.20,156.35 418.16,156.90 419.15,157.45 420.18,157.98 421.23,158.51 422.31,159.03 423.43,159.56 424.57,160.07 425.75,160.55 426.96,161.00 428.20,161.44 429.47,161.87 430.78,162.28 432.11,162.70 433.48,163.12 434.89,163.56 436.32,164.02 437.79,164.52 439.29,165.07 440.83,165.66 442.40,166.25 444.00,166.83 445.64,167.40 447.31,167.96 449.02,168.52 450.76,169.06 452.53,169.59 454.34,170.12 456.19,170.63 458.06,171.14 459.98,171.64 461.93,172.13 463.91,172.62 465.94,173.12 467.99,173.61 470.09,174.11 472.22,174.60 474.38,175.10 476.58,175.59 478.82,176.09 481.10,176.58 483.41,177.07 485.76,177.56 488.14,178.04 490.57,178.52 493.03,179.03 495.52,179.56 498.06,180.10 500.63,180.63 503.24,181.14 505.89,181.61 508.58,182.06 511.30,182.50 514.07,182.92 516.87,183.34 519.71,183.74 522.59,184.14 525.51,184.53 528.47,184.91 531.46,185.29 534.50,185.66 537.57,186.03 540.69,186.39 543.84,186.75 547.04,187.10 550.27,187.45 553.54,187.79 556.86,188.13 560.21,188.46 563.60,188.78 567.04,189.10 570.51,189.42 574.03,189.72 577.58,190.02 581.18,190.31 584.82,190.60 588.50,190.89 592.21,191.17 595.98,191.47 599.78,191.76 603.62,192.06 607.51,192.35 611.43,192.64 615.40,192.94 619.41,193.23 623.46,193.53 627.56,193.82 631.69,194.12 635.87,194.42 640.09,194.72 644.36,195.02 648.66,195.32 653.01,195.62 657.40,195.92 661.83,196.23 666.31,196.54 670.83,196.85 675.39,197.17 680.00,197.49" fill="none" stroke="#f2aaa6" stroke-width="0.7"/>
<polyline points="399.40,52.00 400.33,96.77 400.33,96.78 400.35,96.80 400.37,96.84 400.41,96.90 400.46,96.98 400.53,97.09 400.62,97.23 400.72,97.39 400.85,97.59 400.99,97.81 401.15,98.06 401.33,98.34 401.53,98.66 401.75,99.00 402.00,99.38 402.27,99.80 402.56,100.24 402.87,100.72 403.21,101.23 403.57,101.77 403.95,102.34 404.36,102.95 404.79,103.58 405.25,104.24 405.74,104.93 406.25,105.65 406.78,106.39 407.35,107.15 407.94,107.93 408.55,108.72 409.20,109.52 409.87,110.34 410.57,111.16 411.30,111.99 412.05,112.84 412.84,113.71 413.65,114.59 414.49,115.48 415.37,116.39 416.27,117.31 417.20,118.25 418.16,119.20 419.15,120.17 420.18,121.15 421.23,122.16 422.31,123.18 423.43,124.23 424.57,125.31 425.75,126.42 426.96,127.57 428.20,128.76 429.47,129.99 430.78,131.25 432.11,132.54 433.48,133.86 434.89,135.18 436.32,136.51 437.79,137.83 439.29,139.12 440.83,140.39 442.40,141.66 444.00,142.93 445.64,144.21 447.31,145.48 449.02,146.73 450.76,147.96 452.53,149.17 454.34,150.33 456.19,151.45 458.06,152.57 459.98,153.68 461.93,154.78 463.91,155.86 465.94,156.93 467.99,157.98 470.09,159.00 472.22,159.98 474.38,160.93 476.58,161.85 478.82,162.73 481.10,163.59 483.41,164.43 485.76,165.25 488.14,166.06 490.57,166.86 493.03,167.65 495.52,168.42 498.06,169.15 500.63,169.86 503.24,170.55 505.89,171.23 508.58,171.91 511.30,172.59 514.07,173.26 516.87,173.92 519.71,174.57 522.59,175.20 525.51,175.83 528.47,176.45 531.46,177.05 534.50,177.65 537.57,178.23 540.69,178.81 543.84,179.38 547.04,179.94 550.27,180.49 553.54,181.03 556.86,181.56 560.21,182.07 563.60,182.57 567.04,183.05 570.51,183.51 574.03,183.95 577.58,184.38 581.18,184.78 584.82,185.18 588.50,185.56 592.21,185.93 595.98,186.29 599.78,186.65 603.62,186.99 607.51,187.31 611.43,187.63 615.40,187.93 619.41,188.21 623.46,188.49 627.56,188.75 631.69,189.00 635.87,189.24 640.09,189.46 644.36,189.68 648.66,189.88 653.01,190.07 657.40,190.25 661.83,190.43 666.31,190.59 670.83,190.74 675.39,190.88 680.00,191.01" fill="none" stroke="#f7eea8" stroke-width="0.7"/>
<polyline points="399.40,102.00 400.33,136.41 400.33,136.41 400.35,136.42 400.37,136.43 400.41,136.45 400.46,136.47 400.53,136.51 400.62,136.55 400.72,136.60 400.85,136.66 400.99,136.72 401.15,136.80 401.33,136.89 401.53,136.98 401.75,137.09 402.00,137.21 402.27,137.33 402.56,137.47 402.87,137.62 403.21,137.78 403.57,137.95 403.95,138.14 404.36,138.34 404.79,138.56 405.25,138.79 405.74,139.03 406.25,139.30 406.78,139.59 407.35,139.90 407.94,140.23 408.55,140.59 409.20,140.98 409.87,141.41 410.57,141.86 411.30,142.35 412.05,142.85 412.84,143.38 413.65,143.94 414.49,144.52 415.37,145.12 416.27,145.74 417.20,146.38 418.16,147.04 419.15,147.71 420.18,148.40 421.23,149.09 422.31,149.79 423.43,150.50 424.57,151.20 425.75,151.90 426.96,152.59 428.20,153.25 429.47,153.90 430.78,154.53 432.11,155.15 433.48,155.76 434.89,156.39 436.32,157.02 437.79,157.68 439.29,158.37 440.83,159.10 442.40,159.84 444.00,160.58 445.64,161.33 447.31,162.09 449.02,162.88 450.76,163.68 452.53,164.52 454.34,165.40 456.19,166.33 458.06,167.25 459.98,168.18 461.93,169.12 463.91,170.07 465.94,171.03 467.99,172.00 470.09,173.00 472.22,174.02 474.38,175.07 476.58,176.14 478.82,177.24 481.10,178.34 483.41,179.46 485.76,180.58 488.14,181.70 490.57,182.81 493.03,183.91 495.52,185.03 498.06,186.17 500.63,187.31 503.24,188.44 505.89,189.57 508.58,190.69 511.30,191.79 514.07,192.87 516.87,193.95 519.71,195.01 522.59,196.07 525.51,197.11 528.47,198.15 531.46,199.17 534.50,200.18 537.57,201.18 540.69,202.16 543.84,203.13 547.04,204.08 550.27,205.02 553.54,205.95 556.86,206.87 560.21,207.78 563.60,208.67 567.04,209.56 570.51,210.45 574.03,211.33 577.58,212.20 581.18,213.07 584.82,213.92 588.50,214.77 592.21,215.60 595.98,216.41 599.78,217.21 603.62,218.00 607.51,218.77 611.43,219.54 615.40,220.29 619.41,221.04 623.46,221.77 627.56,222.49 631.69,223.20 635.87,223.90 640.09,224.58 644.36,225.26 648.66,225.92 653.01,226.57 657.40,227.21 661.83,227.83 666.31,228.45 670.83,229.05 675.39,229.63 680.00,230.21" fill="none" stroke="#f7eea8" stroke-width="0.7"/>
<polyline points="399.40,95.00 400.33,118.80 400.33,118.81 400.35,118.85 400.37,118.93 400.41,119.05 400.46,119.21 400.53,119.41 400.62,119.67 400.72,119.98 400.85,120.33 400.99,120.73 401.15,121.18 401.33,121.68 401.53,122.23 401.75,122.82 402.00,123.45 402.27,124.11 402.56,124.82 402.87,125.56 403.21,126.33 403.57,127.13 403.95,127.95 404.36,128.80 404.79,129.66 405.25,130.54 405.74,131.44 406.25,132.34 406.78,133.25 407.35,134.17 407.94,135.09 408.55,136.02 409.20,136.94 409.87,137.86 410.57,138.78 411.30,139.69 412.05,140.59 412.84,141.49 413.65,142.38 414.49,143.26 415.37,144.13 416.27,144.99 417.20,145.84 418.16,146.67 419.15,147.49 420.18,148.30 421.23,149.10 422.31,149.88 423.43,150.65 424.57,151.41 425.75,152.15 426.96,152.88 428.20,153.60 429.47,154.30 430.78,154.99 432.11,155.67 433.48,156.33 434.89,156.98 436.32,157.62 437.79,158.25 439.29,158.86 440.83,159.46 442.40,160.05 444.00,160.63 445.64,161.19 447.31,161.75 449.02,162.29 450.76,162.82 452.53,163.35 454.34,163.86 456.19,164.36 458.06,164.85 459.98,165.34 461.93,165.81 463.91,166.27 465.94,166.73 467.99,167.18 470.09,167.61 472.22,168.04 474.38,168.46 476.58,168.88 478.82,169.28 481.10,169.68 483.41,170.07 485.76,170.45 488.14,170.83 490.57,171.19 493.03,171.56 495.52,171.91 498.06,172.26 500.63,172.60 503.24,172.94 505.89,173.27 508.58,173.59 511.30,173.91 514.07,174.22 516.87,174.53 519.71,174.83 522.59,175.13 525.51,175.42 528.47,175.71 531.46,175.99 534.50,176.27 537.57,176.54 540.69,176.81 543.84,177.07 547.04,177.33 550.27,177.58 553.54,177.84 556.86,178.08 560.21,178.32 563.60,178.56 567.04,178.80 570.51,179.03 574.03,179.26 577.58,179.48 581.18,179.70 584.82,179.92 588.50,180.13 592.21,180.34 595.98,180.54 599.78,180.75 603.62,180.95 607.51,181.15 611.43,181.34 615.40,181.53 619.41,181.72 623.46,181.91 627.56,182.09 631.69,182.27 635.87,182.45 640.09,182.62 644.36,182.79 648.66,182.96 653.01,183.13 657.40,183.30 661.83,183.46 666.31,183.62 670.83,183.78 675.39,183.93 680.00,184.09" fill="none" stroke="#e24646" stroke-width="1.0" stroke-linejoin="round"/>
<polyline points="399.40,77.00 400.33,116.59 400.33,116.59 400.35,116.61 400.37,116.63 400.41,116.67 400.46,116.73 400.53,116.80 400.62,116.89 400.72,117.00 400.85,117.12 400.99,117.27 401.15,117.43 401.33,117.61 401.53,117.82 401.75,118.05 402.00,118.29 402.27,118.56 402.56,118.86 402.87,119.17 403.21,119.50 403.57,119.86 403.95,120.24 404.36,120.64 404.79,121.07 405.25,121.51 405.74,121.98 406.25,122.47 406.78,122.99 407.35,123.52 407.94,124.08 408.55,124.65 409.20,125.25 409.87,125.87 410.57,126.51 411.30,127.17 412.05,127.85 412.84,128.55 413.65,129.26 414.49,130.00 415.37,130.75 416.27,131.52 417.20,132.31 418.16,133.12 419.15,133.94 420.18,134.77 421.23,135.62 422.31,136.49 423.43,137.37 424.57,138.26 425.75,139.16 426.96,140.08 428.20,141.00 429.47,141.94 430.78,142.89 432.11,143.85 433.48,144.81 434.89,145.78 436.32,146.77 437.79,147.75 439.29,148.75 440.83,149.75 442.40,150.75 444.00,151.76 445.64,152.77 447.31,153.79 449.02,154.80 450.76,155.82 452.53,156.84 454.34,157.87 456.19,158.89 458.06,159.91 459.98,160.93 461.93,161.95 463.91,162.96 465.94,163.98 467.99,164.99 470.09,166.00 472.22,167.00 474.38,168.00 476.58,168.99 478.82,169.98 481.10,170.97 483.41,171.94 485.76,172.91 488.14,173.88 490.57,174.83 493.03,175.78 495.52,176.72 498.06,177.66 500.63,178.58 503.24,179.50 505.89,180.40 508.58,181.30 511.30,182.19 514.07,183.06 516.87,183.93 519.71,184.79 522.59,185.64 525.51,186.47 528.47,187.30 531.46,188.11 534.50,188.91 537.57,189.71 540.69,190.49 543.84,191.25 547.04,192.01 550.27,192.76 553.54,193.49 556.86,194.21 560.21,194.92 563.60,195.62 567.04,196.31 570.51,196.98 574.03,197.64 577.58,198.29 581.18,198.93 584.82,199.55 588.50,200.16 592.21,200.76 595.98,201.35 599.78,201.93 603.62,202.49 607.51,203.04 611.43,203.58 615.40,204.11 619.41,204.63 623.46,205.13 627.56,205.62 631.69,206.10 635.87,206.57 640.09,207.02 644.36,207.47 648.66,207.90 653.01,208.32 657.40,208.73 661.83,209.13 666.31,209.52 670.83,209.89 675.39,210.26 680.00,210.61" fill="none" stroke="#f0da2c" stroke-width="1.0" stroke-linejoin="round"/>
<text x="395.00" y="27.40" text-anchor="end" class="tl">0.8</text>
<text x="395.00" y="58.90" text-anchor="end" class="tl">0.6</text>
<text x="395.00" y="90.40" text-anchor="end" class="tl">0.4</text>
<text x="395.00" y="121.90" text-anchor="end" class="tl">0.2</text>
<text x="395.00" y="153.40" text-anchor="end" class="tl">0</text>
<text x="395.00" y="184.90" text-anchor="end" class="tl">-0.2</text>
<text x="395.00" y="216.40" text-anchor="end" class="tl">-0.4</text>
<text x="395.00" y="247.90" text-anchor="end" class="tl">-0.6</text>
<text x="399.40" y="254.70" text-anchor="middle" class="tl">0</text>
<text x="446.17" y="254.70" text-anchor="middle" class="tl">50</text>
<text x="492.93" y="254.70" text-anchor="middle" class="tl">100</text>
<text x="539.70" y="254.70" text-anchor="middle" class="tl">150</text>
<text x="586.47" y="254.70" text-anchor="middle" class="tl">200</text>
<text x="633.23" y="254.70" text-anchor="middle" class="tl">250</text>
<text x="680.00" y="254.70" text-anchor="middle" class="tl">300</text>
<path d="M399.40,25.30 h3.4 M399.40,56.80 h3.4 M399.40,88.30 h3.4 M399.40,119.80 h3.4 M399.40,151.30 h3.4 M399.40,182.80 h3.4 M399.40,214.30 h3.4 M446.17,245.80 v-3.4 M492.93,245.80 v-3.4 M539.70,245.80 v-3.4 M586.47,245.80 v-3.4 M633.23,245.80 v-3.4 M680.00,245.80 v-3.4" stroke="#333" stroke-width="1" fill="none"/>
<line x1="399.40" y1="91.00" x2="399.40" y2="118.00" stroke="#ec7272" stroke-width="1.2"/>
<line x1="417.70" y1="141.20" x2="417.70" y2="166.30" stroke="#ec7272" stroke-width="1.2"/>
<line x1="437.30" y1="139.00" x2="437.30" y2="171.00" stroke="#ec7272" stroke-width="1.2"/>
<line x1="455.40" y1="158.20" x2="455.40" y2="189.70" stroke="#ec7272" stroke-width="1.2"/>
<line x1="510.80" y1="179.40" x2="510.80" y2="210.80" stroke="#ec7272" stroke-width="1.2"/>
<line x1="680.00" y1="169.50" x2="680.00" y2="200.40" stroke="#ec7272" stroke-width="1.2"/>
<line x1="399.40" y1="125.50" x2="399.40" y2="168.00" stroke="#f4e35a" stroke-width="1.2"/>
<line x1="421.90" y1="141.20" x2="421.90" y2="165.40" stroke="#f4e35a" stroke-width="1.2"/>
<line x1="438.80" y1="119.80" x2="438.80" y2="141.50" stroke="#f4e35a" stroke-width="1.2"/>
<line x1="455.30" y1="114.40" x2="455.30" y2="136.60" stroke="#f4e35a" stroke-width="1.2"/>
<line x1="512.40" y1="160.20" x2="512.40" y2="191.30" stroke="#f4e35a" stroke-width="1.2"/>
<line x1="680.00" y1="134.80" x2="680.00" y2="169.50" stroke="#f4e35a" stroke-width="1.2"/>
<rect x="397.65" y="103.35" width="3.5" height="3.5" fill="#e3161d"/>
<rect x="415.95" y="151.65" width="3.5" height="3.5" fill="#e3161d"/>
<rect x="435.55" y="152.85" width="3.5" height="3.5" fill="#e3161d"/>
<rect x="453.65" y="172.55" width="3.5" height="3.5" fill="#e3161d"/>
<rect x="509.05" y="193.15" width="3.5" height="3.5" fill="#e3161d"/>
<rect x="678.25" y="182.15" width="3.5" height="3.5" fill="#e3161d"/>
<circle cx="399.40" cy="146.70" r="1.9" fill="#f2dc0a"/>
<circle cx="421.90" cy="153.50" r="1.9" fill="#f2dc0a"/>
<circle cx="438.80" cy="130.70" r="1.9" fill="#f2dc0a"/>
<circle cx="455.30" cy="125.40" r="1.9" fill="#f2dc0a"/>
<circle cx="512.40" cy="175.60" r="1.9" fill="#f2dc0a"/>
<circle cx="680.00" cy="152.00" r="1.9" fill="#f2dc0a"/>
<rect x="556.10" y="48.80" width="6" height="6" fill="#e3161d"/>
<text x="570.50" y="55.10" class="lg" textLength="110" lengthAdjust="spacingAndGlyphs">Proprioceptive drift async</text>
<circle cx="559.10" cy="66.10" r="3" fill="#f2dc0a"/>
<text x="570.50" y="69.40" class="lg" textLength="102" lengthAdjust="spacingAndGlyphs">Subjective illusion async</text>
<text x="512.90" y="269.40" class="al" textLength="65.3" lengthAdjust="spacingAndGlyphs">Time (seconds)</text>
<text transform="translate(379.80,241.20) rotate(-90)" class="al" textLength="212" lengthAdjust="spacingAndGlyphs">Mean values and SE for the fitted curves (z-score)</text>
<text x="348.80" y="14.10" class="pl">B</text>
<path d="M45.45,298.40 V519.40 H326.80" fill="none" stroke="#3a3a3a" stroke-width="1.2"/>
<polygon points="45.45,330.00 46.38,347.36 46.38,347.39 46.40,347.50 46.42,347.72 46.46,348.06 46.51,348.52 46.58,349.12 46.67,349.85 46.77,350.72 46.90,351.72 47.04,352.86 47.20,354.13 47.38,355.52 47.58,357.02 47.81,358.63 48.05,360.34 48.32,362.14 48.61,364.01 48.93,365.95 49.26,367.93 49.63,369.95 50.01,372.00 50.42,374.05 50.86,376.12 51.32,378.19 51.80,380.26 52.31,382.33 52.85,384.39 53.42,386.44 54.01,388.49 54.63,390.53 55.27,392.59 55.95,394.65 56.65,396.70 57.38,398.73 58.14,400.74 58.92,402.70 59.74,404.61 60.58,406.46 61.46,408.28 62.36,410.08 63.30,411.85 64.26,413.60 65.25,415.32 66.28,417.00 67.33,418.65 68.42,420.26 69.54,421.83 70.69,423.35 71.87,424.82 73.08,426.23 74.32,427.58 75.60,428.85 76.91,430.04 78.25,431.14 79.62,432.19 81.03,433.22 82.47,434.21 83.94,435.19 85.45,436.14 86.99,437.06 88.56,437.97 90.17,438.85 91.81,439.71 93.49,440.54 95.20,441.36 96.94,442.16 98.72,442.93 100.54,443.67 102.39,444.38 104.27,445.07 106.19,445.74 108.14,446.39 110.14,447.03 112.16,447.67 114.22,448.29 116.32,448.90 118.46,449.49 120.63,450.08 122.84,450.65 125.08,451.20 127.36,451.75 129.68,452.28 132.04,452.80 134.43,453.31 136.86,453.80 139.32,454.28 141.83,454.75 144.37,455.20 146.95,455.64 149.57,456.07 152.22,456.47 154.92,456.83 157.65,457.16 160.42,457.46 163.23,457.74 166.08,458.00 168.97,458.25 171.89,458.49 174.86,458.74 177.86,458.99 180.91,459.26 183.99,459.54 187.11,459.81 190.28,460.08 193.48,460.34 196.72,460.60 200.00,460.86 203.33,461.12 206.69,461.37 210.09,461.61 213.53,461.85 217.02,462.09 220.54,462.32 224.11,462.55 227.71,462.77 231.36,462.99 235.05,463.19 238.78,463.39 242.55,463.59 246.36,463.77 250.22,463.94 254.11,464.11 258.05,464.26 262.03,464.40 266.05,464.53 270.11,464.65 274.22,464.77 278.36,464.87 282.55,464.97 286.79,465.05 291.06,465.13 295.38,465.20 299.74,465.26 304.14,465.32 308.59,465.36 313.07,465.40 317.61,465.43 322.18,465.45 326.80,465.47 326.80,484.65 322.18,484.27 317.61,483.90 313.07,483.52 308.59,483.14 304.14,482.77 299.74,482.40 295.38,482.03 291.06,481.66 286.79,481.29 282.55,480.92 278.36,480.56 274.22,480.19 270.11,479.83 266.05,479.47 262.03,479.11 258.05,478.75 254.11,478.40 250.22,478.05 246.36,477.70 242.55,477.35 238.78,477.00 235.05,476.65 231.36,476.30 227.71,475.94 224.11,475.58 220.54,475.22 217.02,474.85 213.53,474.48 210.09,474.10 206.69,473.71 203.33,473.32 200.00,472.92 196.72,472.51 193.48,472.09 190.28,471.66 187.11,471.23 183.99,470.78 180.91,470.32 177.86,469.85 174.86,469.34 171.89,468.81 168.97,468.26 166.08,467.71 163.23,467.14 160.42,466.58 157.65,466.03 154.92,465.49 152.22,464.96 149.57,464.45 146.95,463.95 144.37,463.44 141.83,462.92 139.32,462.40 136.86,461.87 134.43,461.34 132.04,460.79 129.68,460.23 127.36,459.67 125.08,459.09 122.84,458.50 120.63,457.89 118.46,457.27 116.32,456.64 114.22,455.99 112.16,455.32 110.14,454.64 108.14,453.93 106.19,453.20 104.27,452.46 102.39,451.70 100.54,450.92 98.72,450.14 96.94,449.36 95.20,448.56 93.49,447.74 91.81,446.91 90.17,446.05 88.56,445.17 86.99,444.26 85.45,443.34 83.94,442.39 82.47,441.41 81.03,440.42 79.62,439.39 78.25,438.34 76.91,437.28 75.60,436.26 74.32,435.26 73.08,434.28 71.87,433.30 70.69,432.32 69.54,431.33 68.42,430.32 67.33,429.29 66.28,428.23 65.25,427.14 64.26,426.02 63.30,424.86 62.36,423.65 61.46,422.40 60.58,421.11 59.74,419.77 58.92,418.43 58.14,417.08 57.38,415.71 56.65,414.31 55.95,412.86 55.27,411.37 54.63,409.82 54.01,408.23 53.42,406.60 52.85,404.94 52.31,403.27 51.80,401.59 51.32,399.91 50.86,398.25 50.42,396.60 50.01,394.98 49.63,393.40 49.26,391.86 48.93,390.37 48.61,388.93 48.32,387.54 48.05,386.22 47.81,384.95 47.58,383.76 47.38,382.65 47.20,381.62 47.04,380.68 46.90,379.83 46.77,379.08 46.67,378.42 46.58,377.87 46.51,377.42 46.46,377.07 46.42,376.82 46.40,376.65 46.38,376.57 46.38,376.54 45.45,350.00" fill="rgb(205,225,178)" fill-opacity="0.3"/>
<polygon points="45.45,338.00 46.38,371.53 46.38,371.55 46.40,371.62 46.42,371.77 46.46,372.00 46.51,372.31 46.58,372.70 46.67,373.17 46.77,373.73 46.90,374.36 47.04,375.06 47.20,375.83 47.38,376.66 47.58,377.54 47.81,378.48 48.05,379.46 48.32,380.49 48.61,381.54 48.93,382.64 49.26,383.75 49.63,384.89 50.01,386.05 50.42,387.22 50.86,388.41 51.32,389.61 51.80,390.82 52.31,392.03 52.85,393.26 53.42,394.49 54.01,395.73 54.63,396.98 55.27,398.24 55.95,399.52 56.65,400.80 57.38,402.09 58.14,403.38 58.92,404.64 59.74,405.86 60.58,407.04 61.46,408.22 62.36,409.40 63.30,410.57 64.26,411.74 65.25,412.90 66.28,414.06 67.33,415.21 68.42,416.34 69.54,417.47 70.69,418.58 71.87,419.67 73.08,420.74 74.32,421.80 75.60,422.83 76.91,423.83 78.25,424.81 79.62,425.77 81.03,426.72 82.47,427.67 83.94,428.60 85.45,429.53 86.99,430.45 88.56,431.35 90.17,432.23 91.81,433.11 93.49,433.96 95.20,434.80 96.94,435.61 98.72,436.40 100.54,437.17 102.39,437.91 104.27,438.64 106.19,439.35 108.14,440.05 110.14,440.74 112.16,441.41 114.22,442.05 116.32,442.67 118.46,443.27 120.63,443.86 122.84,444.42 125.08,444.98 127.36,445.54 129.68,446.10 132.04,446.65 134.43,447.19 136.86,447.73 139.32,448.26 141.83,448.78 144.37,449.29 146.95,449.80 149.57,450.31 152.22,450.82 154.92,451.32 157.65,451.82 160.42,452.32 163.23,452.81 166.08,453.29 168.97,453.76 171.89,454.23 174.86,454.68 177.86,455.13 180.91,455.56 183.99,455.98 187.11,456.40 190.28,456.80 193.48,457.19 196.72,457.58 200.00,457.95 203.33,458.31 206.69,458.67 210.09,459.01 213.53,459.34 217.02,459.67 220.54,459.98 224.11,460.29 227.71,460.58 231.36,460.87 235.05,461.14 238.78,461.41 242.55,461.66 246.36,461.91 250.22,462.14 254.11,462.37 258.05,462.59 262.03,462.79 266.05,462.99 270.11,463.18 274.22,463.35 278.36,463.52 282.55,463.68 286.79,463.83 291.06,463.97 295.38,464.09 299.74,464.21 304.14,464.32 308.59,464.42 313.07,464.51 317.61,464.58 322.18,464.65 326.80,464.71 326.80,486.70 322.18,486.42 317.61,486.13 313.07,485.83 308.59,485.52 304.14,485.21 299.74,484.88 295.38,484.54 291.06,484.19 286.79,483.84 282.55,483.47 278.36,483.09 274.22,482.71 270.11,482.32 266.05,481.91 262.03,481.50 258.05,481.08 254.11,480.65 250.22,480.21 246.36,479.76 242.55,479.31 238.78,478.84 235.05,478.36 231.36,477.88 227.71,477.39 224.11,476.89 220.54,476.38 217.02,475.86 213.53,475.33 210.09,474.80 206.69,474.25 203.33,473.70 200.00,473.14 196.72,472.57 193.48,472.00 190.28,471.42 187.11,470.82 183.99,470.22 180.91,469.62 177.86,469.00 174.86,468.38 171.89,467.76 168.97,467.12 166.08,466.48 163.23,465.83 160.42,465.17 157.65,464.49 154.92,463.81 152.22,463.11 149.57,462.40 146.95,461.67 144.37,460.93 141.83,460.17 139.32,459.41 136.86,458.63 134.43,457.85 132.04,457.06 129.68,456.26 127.36,455.45 125.08,454.62 122.84,453.78 120.63,452.94 118.46,452.09 116.32,451.24 114.22,450.40 112.16,449.57 110.14,448.75 108.14,447.93 106.19,447.10 104.27,446.28 102.39,445.45 100.54,444.63 98.72,443.82 96.94,443.01 95.20,442.21 93.49,441.42 91.81,440.64 90.17,439.86 88.56,439.08 86.99,438.30 85.45,437.52 83.94,436.74 82.47,435.95 81.03,435.17 79.62,434.37 78.25,433.58 76.91,432.78 75.60,432.00 74.32,431.24 73.08,430.49 71.87,429.75 70.69,429.01 69.54,428.28 68.42,427.56 67.33,426.83 66.28,426.11 65.25,425.39 64.26,424.67 63.30,423.94 62.36,423.21 61.46,422.48 60.58,421.74 59.74,421.00 58.92,420.30 58.14,419.62 57.38,418.97 56.65,418.32 55.95,417.66 55.27,417.00 54.63,416.31 54.01,415.62 53.42,414.92 52.85,414.22 52.31,413.52 51.80,412.82 51.32,412.12 50.86,411.42 50.42,410.73 50.01,410.04 49.63,409.36 49.26,408.69 48.93,408.03 48.61,407.38 48.32,406.75 48.05,406.12 47.81,405.51 47.58,404.93 47.38,404.36 47.20,403.82 47.04,403.32 46.90,402.85 46.77,402.42 46.67,402.04 46.58,401.71 46.51,401.43 46.46,401.22 46.42,401.05 46.40,400.95 46.38,400.89 46.38,400.88 45.45,358.00" fill="rgb(182,182,225)" fill-opacity="0.3"/>
<polyline points="45.45,330.00 46.38,347.36 46.38,347.39 46.40,347.50 46.42,347.72 46.46,348.06 46.51,348.52 46.58,349.12 46.67,349.85 46.77,350.72 46.90,351.72 47.04,352.86 47.20,354.13 47.38,355.52 47.58,357.02 47.81,358.63 48.05,360.34 48.32,362.14 48.61,364.01 48.93,365.95 49.26,367.93 49.63,369.95 50.01,372.00 50.42,374.05 50.86,376.12 51.32,378.19 51.80,380.26 52.31,382.33 52.85,384.39 53.42,386.44 54.01,388.49 54.63,390.53 55.27,392.59 55.95,394.65 56.65,396.70 57.38,398.73 58.14,400.74 58.92,402.70 59.74,404.61 60.58,406.46 61.46,408.28 62.36,410.08 63.30,411.85 64.26,413.60 65.25,415.32 66.28,417.00 67.33,418.65 68.42,420.26 69.54,421.83 70.69,423.35 71.87,424.82 73.08,426.23 74.32,427.58 75.60,428.85 76.91,430.04 78.25,431.14 79.62,432.19 81.03,433.22 82.47,434.21 83.94,435.19 85.45,436.14 86.99,437.06 88.56,437.97 90.17,438.85 91.81,439.71 93.49,440.54 95.20,441.36 96.94,442.16 98.72,442.93 100.54,443.67 102.39,444.38 104.27,445.07 106.19,445.74 108.14,446.39 110.14,447.03 112.16,447.67 114.22,448.29 116.32,448.90 118.46,449.49 120.63,450.08 122.84,450.65 125.08,451.20 127.36,451.75 129.68,452.28 132.04,452.80 134.43,453.31 136.86,453.80 139.32,454.28 141.83,454.75 144.37,455.20 146.95,455.64 149.57,456.07 152.22,456.47 154.92,456.83 157.65,457.16 160.42,457.46 163.23,457.74 166.08,458.00 168.97,458.25 171.89,458.49 174.86,458.74 177.86,458.99 180.91,459.26 183.99,459.54 187.11,459.81 190.28,460.08 193.48,460.34 196.72,460.60 200.00,460.86 203.33,461.12 206.69,461.37 210.09,461.61 213.53,461.85 217.02,462.09 220.54,462.32 224.11,462.55 227.71,462.77 231.36,462.99 235.05,463.19 238.78,463.39 242.55,463.59 246.36,463.77 250.22,463.94 254.11,464.11 258.05,464.26 262.03,464.40 266.05,464.53 270.11,464.65 274.22,464.77 278.36,464.87 282.55,464.97 286.79,465.05 291.06,465.13 295.38,465.20 299.74,465.26 304.14,465.32 308.59,465.36 313.07,465.40 317.61,465.43 322.18,465.45 326.80,465.47" fill="none" stroke="#bcdca4" stroke-width="0.7"/>
<polyline points="45.45,350.00 46.38,376.54 46.38,376.57 46.40,376.65 46.42,376.82 46.46,377.07 46.51,377.42 46.58,377.87 46.67,378.42 46.77,379.08 46.90,379.83 47.04,380.68 47.20,381.62 47.38,382.65 47.58,383.76 47.81,384.95 48.05,386.22 48.32,387.54 48.61,388.93 48.93,390.37 49.26,391.86 49.63,393.40 50.01,394.98 50.42,396.60 50.86,398.25 51.32,399.91 51.80,401.59 52.31,403.27 52.85,404.94 53.42,406.60 54.01,408.23 54.63,409.82 55.27,411.37 55.95,412.86 56.65,414.31 57.38,415.71 58.14,417.08 58.92,418.43 59.74,419.77 60.58,421.11 61.46,422.40 62.36,423.65 63.30,424.86 64.26,426.02 65.25,427.14 66.28,428.23 67.33,429.29 68.42,430.32 69.54,431.33 70.69,432.32 71.87,433.30 73.08,434.28 74.32,435.26 75.60,436.26 76.91,437.28 78.25,438.34 79.62,439.39 81.03,440.42 82.47,441.41 83.94,442.39 85.45,443.34 86.99,444.26 88.56,445.17 90.17,446.05 91.81,446.91 93.49,447.74 95.20,448.56 96.94,449.36 98.72,450.14 100.54,450.92 102.39,451.70 104.27,452.46 106.19,453.20 108.14,453.93 110.14,454.64 112.16,455.32 114.22,455.99 116.32,456.64 118.46,457.27 120.63,457.89 122.84,458.50 125.08,459.09 127.36,459.67 129.68,460.23 132.04,460.79 134.43,461.34 136.86,461.87 139.32,462.40 141.83,462.92 144.37,463.44 146.95,463.95 149.57,464.45 152.22,464.96 154.92,465.49 157.65,466.03 160.42,466.58 163.23,467.14 166.08,467.71 168.97,468.26 171.89,468.81 174.86,469.34 177.86,469.85 180.91,470.32 183.99,470.78 187.11,471.23 190.28,471.66 193.48,472.09 196.72,472.51 200.00,472.92 203.33,473.32 206.69,473.71 210.09,474.10 213.53,474.48 217.02,474.85 220.54,475.22 224.11,475.58 227.71,475.94 231.36,476.30 235.05,476.65 238.78,477.00 242.55,477.35 246.36,477.70 250.22,478.05 254.11,478.40 258.05,478.75 262.03,479.11 266.05,479.47 270.11,479.83 274.22,480.19 278.36,480.56 282.55,480.92 286.79,481.29 291.06,481.66 295.38,482.03 299.74,482.40 304.14,482.77 308.59,483.14 313.07,483.52 317.61,483.90 322.18,484.27 326.80,484.65" fill="none" stroke="#bcdca4" stroke-width="0.7"/>
<polyline points="45.45,338.00 46.38,371.53 46.38,371.55 46.40,371.62 46.42,371.77 46.46,372.00 46.51,372.31 46.58,372.70 46.67,373.17 46.77,373.73 46.90,374.36 47.04,375.06 47.20,375.83 47.38,376.66 47.58,377.54 47.81,378.48 48.05,379.46 48.32,380.49 48.61,381.54 48.93,382.64 49.26,383.75 49.63,384.89 50.01,386.05 50.42,387.22 50.86,388.41 51.32,389.61 51.80,390.82 52.31,392.03 52.85,393.26 53.42,394.49 54.01,395.73 54.63,396.98 55.27,398.24 55.95,399.52 56.65,400.80 57.38,402.09 58.14,403.38 58.92,404.64 59.74,405.86 60.58,407.04 61.46,408.22 62.36,409.40 63.30,410.57 64.26,411.74 65.25,412.90 66.28,414.06 67.33,415.21 68.42,416.34 69.54,417.47 70.69,418.58 71.87,419.67 73.08,420.74 74.32,421.80 75.60,422.83 76.91,423.83 78.25,424.81 79.62,425.77 81.03,426.72 82.47,427.67 83.94,428.60 85.45,429.53 86.99,430.45 88.56,431.35 90.17,432.23 91.81,433.11 93.49,433.96 95.20,434.80 96.94,435.61 98.72,436.40 100.54,437.17 102.39,437.91 104.27,438.64 106.19,439.35 108.14,440.05 110.14,440.74 112.16,441.41 114.22,442.05 116.32,442.67 118.46,443.27 120.63,443.86 122.84,444.42 125.08,444.98 127.36,445.54 129.68,446.10 132.04,446.65 134.43,447.19 136.86,447.73 139.32,448.26 141.83,448.78 144.37,449.29 146.95,449.80 149.57,450.31 152.22,450.82 154.92,451.32 157.65,451.82 160.42,452.32 163.23,452.81 166.08,453.29 168.97,453.76 171.89,454.23 174.86,454.68 177.86,455.13 180.91,455.56 183.99,455.98 187.11,456.40 190.28,456.80 193.48,457.19 196.72,457.58 200.00,457.95 203.33,458.31 206.69,458.67 210.09,459.01 213.53,459.34 217.02,459.67 220.54,459.98 224.11,460.29 227.71,460.58 231.36,460.87 235.05,461.14 238.78,461.41 242.55,461.66 246.36,461.91 250.22,462.14 254.11,462.37 258.05,462.59 262.03,462.79 266.05,462.99 270.11,463.18 274.22,463.35 278.36,463.52 282.55,463.68 286.79,463.83 291.06,463.97 295.38,464.09 299.74,464.21 304.14,464.32 308.59,464.42 313.07,464.51 317.61,464.58 322.18,464.65 326.80,464.71" fill="none" stroke="#a8a8dc" stroke-width="0.7"/>
<polyline points="45.45,358.00 46.38,400.88 46.38,400.89 46.40,400.95 46.42,401.05 46.46,401.22 46.51,401.43 46.58,401.71 46.67,402.04 46.77,402.42 46.90,402.85 47.04,403.32 47.20,403.82 47.38,404.36 47.58,404.93 47.81,405.51 48.05,406.12 48.32,406.75 48.61,407.38 48.93,408.03 49.26,408.69 49.63,409.36 50.01,410.04 50.42,410.73 50.86,411.42 51.32,412.12 51.80,412.82 52.31,413.52 52.85,414.22 53.42,414.92 54.01,415.62 54.63,416.31 55.27,417.00 55.95,417.66 56.65,418.32 57.38,418.97 58.14,419.62 58.92,420.30 59.74,421.00 60.58,421.74 61.46,422.48 62.36,423.21 63.30,423.94 64.26,424.67 65.25,425.39 66.28,426.11 67.33,426.83 68.42,427.56 69.54,428.28 70.69,429.01 71.87,429.75 73.08,430.49 74.32,431.24 75.60,432.00 76.91,432.78 78.25,433.58 79.62,434.37 81.03,435.17 82.47,435.95 83.94,436.74 85.45,437.52 86.99,438.30 88.56,439.08 90.17,439.86 91.81,440.64 93.49,441.42 95.20,442.21 96.94,443.01 98.72,443.82 100.54,444.63 102.39,445.45 104.27,446.28 106.19,447.10 108.14,447.93 110.14,448.75 112.16,449.57 114.22,450.40 116.32,451.24 118.46,452.09 120.63,452.94 122.84,453.78 125.08,454.62 127.36,455.45 129.68,456.26 132.04,457.06 134.43,457.85 136.86,458.63 139.32,459.41 141.83,460.17 144.37,460.93 146.95,461.67 149.57,462.40 152.22,463.11 154.92,463.81 157.65,464.49 160.42,465.17 163.23,465.83 166.08,466.48 168.97,467.12 171.89,467.76 174.86,468.38 177.86,469.00 180.91,469.62 183.99,470.22 187.11,470.82 190.28,471.42 193.48,472.00 196.72,472.57 200.00,473.14 203.33,473.70 206.69,474.25 210.09,474.80 213.53,475.33 217.02,475.86 220.54,476.38 224.11,476.89 227.71,477.39 231.36,477.88 235.05,478.36 238.78,478.84 242.55,479.31 246.36,479.76 250.22,480.21 254.11,480.65 258.05,481.08 262.03,481.50 266.05,481.91 270.11,482.32 274.22,482.71 278.36,483.09 282.55,483.47 286.79,483.84 291.06,484.19 295.38,484.54 299.74,484.88 304.14,485.21 308.59,485.52 313.07,485.83 317.61,486.13 322.18,486.42 326.80,486.70" fill="none" stroke="#a8a8dc" stroke-width="0.7"/>
<polyline points="45.45,340.00 46.38,361.95 46.38,361.98 46.40,362.08 46.42,362.27 46.46,362.57 46.51,362.97 46.58,363.50 46.67,364.14 46.77,364.90 46.90,365.78 47.04,366.77 47.20,367.87 47.38,369.08 47.58,370.39 47.81,371.79 48.05,373.28 48.32,374.84 48.61,376.47 48.93,378.16 49.26,379.90 49.63,381.68 50.01,383.49 50.42,385.33 50.86,387.18 51.32,389.05 51.80,390.93 52.31,392.80 52.85,394.66 53.42,396.52 54.01,398.36 54.63,400.18 55.27,401.98 55.95,403.75 56.65,405.50 57.38,407.22 58.14,408.91 58.92,410.57 59.74,412.19 60.58,413.78 61.46,415.34 62.36,416.87 63.30,418.35 64.26,419.81 65.25,421.23 66.28,422.62 67.33,423.97 68.42,425.29 69.54,426.58 70.69,427.84 71.87,429.06 73.08,430.26 74.32,431.42 75.60,432.56 76.91,433.66 78.25,434.74 79.62,435.79 81.03,436.82 82.47,437.81 83.94,438.79 85.45,439.74 86.99,440.66 88.56,441.57 90.17,442.45 91.81,443.31 93.49,444.14 95.20,444.96 96.94,445.76 98.72,446.54 100.54,447.30 102.39,448.04 104.27,448.76 106.19,449.47 108.14,450.16 110.14,450.83 112.16,451.49 114.22,452.14 116.32,452.77 118.46,453.38 120.63,453.98 122.84,454.57 125.08,455.15 127.36,455.71 129.68,456.26 132.04,456.80 134.43,457.32 136.86,457.84 139.32,458.34 141.83,458.84 144.37,459.32 146.95,459.79 149.57,460.26 152.22,460.71 154.92,461.16 157.65,461.59 160.42,462.02 163.23,462.44 166.08,462.85 168.97,463.26 171.89,463.65 174.86,464.04 177.86,464.42 180.91,464.79 183.99,465.16 187.11,465.52 190.28,465.87 193.48,466.22 196.72,466.56 200.00,466.89 203.33,467.22 206.69,467.54 210.09,467.86 213.53,468.17 217.02,468.47 220.54,468.77 224.11,469.07 227.71,469.36 231.36,469.64 235.05,469.92 238.78,470.20 242.55,470.47 246.36,470.73 250.22,471.00 254.11,471.25 258.05,471.51 262.03,471.76 266.05,472.00 270.11,472.24 274.22,472.48 278.36,472.71 282.55,472.94 286.79,473.17 291.06,473.39 295.38,473.61 299.74,473.83 304.14,474.04 308.59,474.25 313.07,474.46 317.61,474.66 322.18,474.86 326.80,475.06" fill="none" stroke="#6cb248" stroke-width="1.0" stroke-linejoin="round"/>
<polyline points="45.45,348.00 46.38,386.20 46.38,386.22 46.40,386.29 46.42,386.41 46.46,386.61 46.51,386.87 46.58,387.20 46.67,387.61 46.77,388.07 46.90,388.60 47.04,389.19 47.20,389.82 47.38,390.51 47.58,391.23 47.81,392.00 48.05,392.79 48.32,393.62 48.61,394.46 48.93,395.33 49.26,396.22 49.63,397.13 50.01,398.05 50.42,398.98 50.86,399.91 51.32,400.86 51.80,401.82 52.31,402.78 52.85,403.74 53.42,404.71 54.01,405.68 54.63,406.65 55.27,407.62 55.95,408.59 56.65,409.56 57.38,410.53 58.14,411.50 58.92,412.47 59.74,413.43 60.58,414.39 61.46,415.35 62.36,416.31 63.30,417.26 64.26,418.20 65.25,419.15 66.28,420.09 67.33,421.02 68.42,421.95 69.54,422.87 70.69,423.79 71.87,424.71 73.08,425.62 74.32,426.52 75.60,427.42 76.91,428.31 78.25,429.19 79.62,430.07 81.03,430.94 82.47,431.81 83.94,432.67 85.45,433.52 86.99,434.37 88.56,435.21 90.17,436.04 91.81,436.87 93.49,437.69 95.20,438.50 96.94,439.31 98.72,440.11 100.54,440.90 102.39,441.68 104.27,442.46 106.19,443.23 108.14,443.99 110.14,444.74 112.16,445.49 114.22,446.23 116.32,446.96 118.46,447.68 120.63,448.40 122.84,449.10 125.08,449.80 127.36,450.50 129.68,451.18 132.04,451.85 134.43,452.52 136.86,453.18 139.32,453.83 141.83,454.47 144.37,455.11 146.95,455.74 149.57,456.35 152.22,456.96 154.92,457.56 157.65,458.16 160.42,458.74 163.23,459.32 166.08,459.88 168.97,460.44 171.89,460.99 174.86,461.53 177.86,462.07 180.91,462.59 183.99,463.10 187.11,463.61 190.28,464.11 193.48,464.60 196.72,465.08 200.00,465.55 203.33,466.01 206.69,466.46 210.09,466.90 213.53,467.34 217.02,467.76 220.54,468.18 224.11,468.59 227.71,468.98 231.36,469.37 235.05,469.75 238.78,470.12 242.55,470.48 246.36,470.84 250.22,471.18 254.11,471.51 258.05,471.83 262.03,472.15 266.05,472.45 270.11,472.75 274.22,473.03 278.36,473.31 282.55,473.57 286.79,473.83 291.06,474.08 295.38,474.32 299.74,474.54 304.14,474.76 308.59,474.97 313.07,475.17 317.61,475.36 322.18,475.54 326.80,475.71" fill="none" stroke="#4a6cb3" stroke-width="1.0" stroke-linejoin="round"/>
<text x="41.05" y="300.50" text-anchor="end" class="tl">1.5</text>
<text x="41.05" y="344.70" text-anchor="end" class="tl">1</text>
<text x="41.05" y="388.90" text-anchor="end" class="tl">0.5</text>
<text x="41.05" y="433.10" text-anchor="end" class="tl">0</text>
<text x="41.05" y="477.30" text-anchor="end" class="tl">-0.5</text>
<text x="41.05" y="521.50" text-anchor="end" class="tl">-1</text>
<text x="45.45" y="528.30" text-anchor="middle" class="tl">0</text>
<text x="92.34" y="528.30" text-anchor="middle" class="tl">50</text>
<text x="139.23" y="528.30" text-anchor="middle" class="tl">100</text>
<text x="186.12" y="528.30" text-anchor="middle" class="tl">150</text>
<text x="233.02" y="528.30" text-anchor="middle" class="tl">200</text>
<text x="279.91" y="528.30" text-anchor="middle" class="tl">250</text>
<text x="326.80" y="528.30" text-anchor="middle" class="tl">300</text>
<path d="M45.45,298.40 h3.4 M45.45,342.60 h3.4 M45.45,386.80 h3.4 M45.45,431.00 h3.4 M45.45,475.20 h3.4 M92.34,519.40 v-3.4 M139.23,519.40 v-3.4 M186.12,519.40 v-3.4 M233.02,519.40 v-3.4 M279.91,519.40 v-3.4 M326.80,519.40 v-3.4" stroke="#333" stroke-width="1" fill="none"/>
<line x1="45.45" y1="318.70" x2="45.45" y2="338.60" stroke="#8fc870" stroke-width="1.2"/>
<line x1="64.40" y1="459.90" x2="64.40" y2="473.40" stroke="#8fc870" stroke-width="1.2"/>
<line x1="83.40" y1="424.70" x2="83.40" y2="441.70" stroke="#8fc870" stroke-width="1.2"/>
<line x1="102.20" y1="443.50" x2="102.20" y2="456.30" stroke="#8fc870" stroke-width="1.2"/>
<line x1="158.20" y1="444.80" x2="158.20" y2="458.10" stroke="#8fc870" stroke-width="1.2"/>
<line x1="326.70" y1="448.40" x2="326.70" y2="465.00" stroke="#8fc870" stroke-width="1.2"/>
<line x1="45.45" y1="338.60" x2="45.45" y2="357.00" stroke="#7c97cc" stroke-width="1.2"/>
<line x1="64.40" y1="421.50" x2="64.40" y2="434.30" stroke="#7c97cc" stroke-width="1.2"/>
<line x1="86.60" y1="427.00" x2="86.60" y2="439.40" stroke="#7c97cc" stroke-width="1.2"/>
<line x1="105.40" y1="446.20" x2="105.40" y2="460.00" stroke="#7c97cc" stroke-width="1.2"/>
<line x1="162.30" y1="441.20" x2="162.30" y2="454.50" stroke="#7c97cc" stroke-width="1.2"/>
<line x1="324.00" y1="456.70" x2="324.00" y2="480.60" stroke="#7c97cc" stroke-width="1.2"/>
<rect x="43.70" y="332.05" width="3.5" height="3.5" fill="#63b32e"/>
<rect x="62.65" y="465.05" width="3.5" height="3.5" fill="#63b32e"/>
<rect x="81.65" y="431.65" width="3.5" height="3.5" fill="#63b32e"/>
<rect x="100.45" y="448.45" width="3.5" height="3.5" fill="#63b32e"/>
<rect x="156.45" y="449.55" width="3.5" height="3.5" fill="#63b32e"/>
<rect x="324.95" y="455.85" width="3.5" height="3.5" fill="#63b32e"/>
<circle cx="45.45" cy="347.80" r="1.9" fill="#1f4da5"/>
<circle cx="64.40" cy="427.40" r="1.9" fill="#1f4da5"/>
<circle cx="86.60" cy="433.70" r="1.9" fill="#1f4da5"/>
<circle cx="105.40" cy="452.90" r="1.9" fill="#1f4da5"/>
<circle cx="162.30" cy="448.20" r="1.9" fill="#1f4da5"/>
<circle cx="324.00" cy="469.50" r="1.9" fill="#1f4da5"/>
<rect x="209.90" y="315.50" width="6" height="6" fill="#63b32e"/>
<text x="225.20" y="321.80" class="lg" textLength="105" lengthAdjust="spacingAndGlyphs">Proprioceptive drift sync</text>
<circle cx="212.90" cy="332.00" r="3" fill="#1f4da5"/>
<text x="225.20" y="335.30" class="lg" textLength="97.5" lengthAdjust="spacingAndGlyphs">Subjective illusion sync</text>
<text x="159.10" y="540.80" class="al" textLength="64.4" lengthAdjust="spacingAndGlyphs">Time (seconds)</text>
<text transform="translate(26.60,514.50) rotate(-90)" class="al" textLength="212" lengthAdjust="spacingAndGlyphs">Mean values and SE for the fitted curves (z-score)</text>
<text x="0.80" y="286.20" class="pl">C</text>
<path d="M399.50,298.30 V518.80 H680.00" fill="none" stroke="#3a3a3a" stroke-width="1.2"/>
<polygon points="399.50,355.00 400.43,351.38 400.43,351.41 400.45,351.51 400.47,351.70 400.51,351.99 400.56,352.38 400.63,352.88 400.72,353.47 400.82,354.16 400.95,354.92 401.09,355.77 401.25,356.68 401.43,357.66 401.63,358.68 401.85,359.76 402.10,360.88 402.37,362.03 402.66,363.22 402.97,364.43 403.31,365.66 403.67,366.91 404.05,368.17 404.46,369.43 404.89,370.70 405.35,371.96 405.84,373.23 406.35,374.50 406.88,375.77 407.44,377.05 408.03,378.32 408.65,379.59 409.30,380.85 409.97,382.11 410.67,383.37 411.39,384.61 412.15,385.85 412.93,387.09 413.75,388.32 414.59,389.54 415.46,390.75 416.36,391.96 417.29,393.16 418.26,394.34 419.25,395.52 420.27,396.68 421.32,397.84 422.40,398.99 423.52,400.12 424.66,401.25 425.84,402.38 427.05,403.49 428.29,404.60 429.56,405.70 430.87,406.79 432.20,407.89 433.57,408.99 434.98,410.08 436.41,411.15 437.88,412.20 439.38,413.21 440.92,414.17 442.48,415.13 444.09,416.08 445.72,417.03 447.39,417.97 449.10,418.91 450.84,419.84 452.61,420.77 454.42,421.69 456.27,422.60 458.14,423.51 460.06,424.41 462.01,425.30 463.99,426.19 466.01,427.07 468.07,427.94 470.16,428.80 472.29,429.66 474.45,430.50 476.66,431.34 478.89,432.17 481.17,432.99 483.48,433.80 485.83,434.60 488.21,435.39 490.63,436.18 493.09,436.96 495.59,437.73 498.12,438.49 500.70,439.25 503.31,440.00 505.95,440.75 508.64,441.49 511.36,442.22 514.13,442.96 516.93,443.67 519.77,444.37 522.65,445.05 525.56,445.72 528.52,446.37 531.52,447.01 534.55,447.64 537.62,448.25 540.74,448.86 543.89,449.46 547.08,450.06 550.32,450.66 553.59,451.26 556.90,451.86 560.25,452.46 563.64,453.06 567.08,453.65 570.55,454.24 574.06,454.83 577.62,455.41 581.21,455.98 584.85,456.56 588.53,457.12 592.25,457.69 596.01,458.24 599.81,458.80 603.65,459.35 607.53,459.89 611.46,460.43 615.42,460.97 619.43,461.50 623.48,462.02 627.58,462.54 631.71,463.06 635.89,463.57 640.11,464.08 644.37,464.58 648.67,465.08 653.02,465.58 657.41,466.06 661.84,466.55 666.32,467.03 670.83,467.51 675.40,467.98 680.00,468.44 680.00,498.24 675.40,497.33 670.83,496.42 666.32,495.51 661.84,494.59 657.41,493.68 653.02,492.77 648.67,491.85 644.37,490.94 640.11,490.02 635.89,489.11 631.71,488.19 627.58,487.28 623.48,486.36 619.43,485.44 615.42,484.52 611.46,483.60 607.53,482.69 603.65,481.77 599.81,480.85 596.01,479.93 592.25,479.00 588.53,478.08 584.85,477.16 581.21,476.24 577.62,475.31 574.06,474.39 570.55,473.46 567.08,472.53 563.64,471.61 560.25,470.68 556.90,469.75 553.59,468.81 550.32,467.86 547.08,466.91 543.89,465.95 540.74,465.00 537.62,464.04 534.55,463.09 531.52,462.14 528.52,461.20 525.56,460.26 522.65,459.33 519.77,458.42 516.93,457.51 514.13,456.62 511.36,455.74 508.64,454.85 505.95,453.97 503.31,453.08 500.70,452.19 498.12,451.31 495.59,450.42 493.09,449.54 490.63,448.65 488.21,447.77 485.83,446.89 483.48,446.01 481.17,445.14 478.89,444.27 476.66,443.40 474.45,442.53 472.29,441.66 470.16,440.80 468.07,439.94 466.01,439.09 463.99,438.23 462.01,437.38 460.06,436.52 458.14,435.67 456.27,434.82 454.42,433.97 452.61,433.11 450.84,432.26 449.10,431.41 447.39,430.55 445.72,429.69 444.09,428.84 442.48,427.98 440.92,427.12 439.38,426.26 437.88,425.43 436.41,424.64 434.98,423.87 433.57,423.11 432.20,422.35 430.87,421.58 429.56,420.80 428.29,420.02 427.05,419.24 425.84,418.46 424.66,417.68 423.52,416.90 422.40,416.13 421.32,415.35 420.27,414.58 419.25,413.81 418.26,413.04 417.29,412.28 416.36,411.52 415.46,410.77 414.59,410.01 413.75,409.26 412.93,408.51 412.15,407.76 411.39,407.01 410.67,406.26 409.97,405.51 409.30,404.77 408.65,404.02 408.03,403.28 407.44,402.54 406.88,401.80 406.35,401.05 405.84,400.31 405.35,399.57 404.89,398.82 404.46,398.08 404.05,397.35 403.67,396.63 403.31,395.91 402.97,395.19 402.66,394.48 402.37,393.77 402.10,393.06 401.85,392.36 401.63,391.68 401.43,391.01 401.25,390.36 401.09,389.74 400.95,389.15 400.82,388.61 400.72,388.12 400.63,387.68 400.56,387.32 400.51,387.02 400.47,386.81 400.45,386.66 400.43,386.58 400.43,386.57 399.50,375.00" fill="rgb(249,178,172)" fill-opacity="0.3"/>
<polygon points="399.50,356.50 400.43,388.21 400.43,388.22 400.45,388.24 400.47,388.28 400.51,388.35 400.56,388.44 400.63,388.56 400.72,388.70 400.82,388.87 400.95,389.08 401.09,389.31 401.25,389.58 401.43,389.87 401.63,390.20 401.85,390.55 402.10,390.93 402.37,391.35 402.66,391.79 402.97,392.25 403.31,392.74 403.67,393.25 404.05,393.78 404.46,394.33 404.89,394.88 405.35,395.45 405.84,396.03 406.35,396.63 406.88,397.24 407.44,397.86 408.03,398.49 408.65,399.13 409.30,399.77 409.97,400.42 410.67,401.07 411.39,401.74 412.15,402.42 412.93,403.10 413.75,403.80 414.59,404.50 415.46,405.21 416.36,405.92 417.29,406.63 418.26,407.35 419.25,408.08 420.27,408.80 421.32,409.53 422.40,410.26 423.52,410.99 424.66,411.72 425.84,412.45 427.05,413.18 428.29,413.91 429.56,414.64 430.87,415.37 432.20,416.11 433.57,416.85 434.98,417.58 436.41,418.31 437.88,419.04 439.38,419.76 440.92,420.47 442.48,421.17 444.09,421.85 445.72,422.52 447.39,423.17 449.10,423.80 450.84,424.40 452.61,424.99 454.42,425.58 456.27,426.16 458.14,426.72 460.06,427.27 462.01,427.81 463.99,428.33 466.01,428.82 468.07,429.29 470.16,429.73 472.29,430.15 474.45,430.54 476.66,430.91 478.89,431.25 481.17,431.57 483.48,431.88 485.83,432.16 488.21,432.43 490.63,432.69 493.09,432.93 495.59,433.17 498.12,433.40 500.70,433.62 503.31,433.83 505.95,434.02 508.64,434.20 511.36,434.35 514.13,434.49 516.93,434.61 519.77,434.72 522.65,434.82 525.56,434.90 528.52,434.98 531.52,435.04 534.55,435.11 537.62,435.16 540.74,435.22 543.89,435.27 547.08,435.33 550.32,435.40 553.59,435.47 556.90,435.55 560.25,435.65 563.64,435.75 567.08,435.84 570.55,435.94 574.06,436.04 577.62,436.13 581.21,436.22 584.85,436.31 588.53,436.40 592.25,436.49 596.01,436.57 599.81,436.65 603.65,436.73 607.53,436.80 611.46,436.86 615.42,436.91 619.43,436.96 623.48,437.00 627.58,437.04 631.71,437.07 635.89,437.10 640.11,437.13 644.37,437.15 648.67,437.16 653.02,437.18 657.41,437.19 661.84,437.19 666.32,437.20 670.83,437.20 675.40,437.19 680.00,437.19 680.00,458.99 675.40,458.78 670.83,458.58 666.32,458.37 661.84,458.16 657.41,457.95 653.02,457.73 648.67,457.52 644.37,457.30 640.11,457.08 635.89,456.85 631.71,456.63 627.58,456.40 623.48,456.17 619.43,455.94 615.42,455.70 611.46,455.47 607.53,455.24 603.65,455.00 599.81,454.77 596.01,454.53 592.25,454.29 588.53,454.04 584.85,453.79 581.21,453.53 577.62,453.26 574.06,452.98 570.55,452.70 567.08,452.41 563.64,452.11 560.25,451.80 556.90,451.48 553.59,451.14 550.32,450.77 547.08,450.39 543.89,449.99 540.74,449.57 537.62,449.14 534.55,448.71 531.52,448.26 528.52,447.81 525.56,447.36 522.65,446.90 519.77,446.44 516.93,445.98 514.13,445.52 511.36,445.07 508.64,444.61 505.95,444.16 503.31,443.72 500.70,443.28 498.12,442.84 495.59,442.39 493.09,441.93 490.63,441.46 488.21,441.00 485.83,440.52 483.48,440.05 481.17,439.59 478.89,439.12 476.66,438.66 474.45,438.21 472.29,437.77 470.16,437.33 468.07,436.91 466.01,436.50 463.99,436.10 462.01,435.70 460.06,435.31 458.14,434.92 456.27,434.52 454.42,434.13 452.61,433.72 450.84,433.31 449.10,432.90 447.39,432.49 445.72,432.09 444.09,431.70 442.48,431.32 440.92,430.94 439.38,430.55 437.88,430.17 436.41,429.78 434.98,429.38 433.57,428.98 432.20,428.58 430.87,428.17 429.56,427.75 428.29,427.32 427.05,426.89 425.84,426.45 424.66,426.01 423.52,425.57 422.40,425.13 421.32,424.69 420.27,424.26 419.25,423.82 418.26,423.39 417.29,422.97 416.36,422.55 415.46,422.13 414.59,421.72 413.75,421.32 412.93,420.93 412.15,420.54 411.39,420.16 410.67,419.79 409.97,419.43 409.30,419.09 408.65,418.76 408.03,418.45 407.44,418.16 406.88,417.89 406.35,417.63 405.84,417.40 405.35,417.18 404.89,416.97 404.46,416.79 404.05,416.63 403.67,416.49 403.31,416.37 402.97,416.26 402.66,416.16 402.37,416.07 402.10,416.00 401.85,415.93 401.63,415.87 401.43,415.82 401.25,415.77 401.09,415.73 400.95,415.70 400.82,415.67 400.72,415.64 400.63,415.62 400.56,415.61 400.51,415.59 400.47,415.58 400.45,415.58 400.43,415.58 400.43,415.58 399.50,380.50" fill="rgb(252,248,188)" fill-opacity="0.3"/>
<polyline points="399.50,355.00 400.43,351.38 400.43,351.41 400.45,351.51 400.47,351.70 400.51,351.99 400.56,352.38 400.63,352.88 400.72,353.47 400.82,354.16 400.95,354.92 401.09,355.77 401.25,356.68 401.43,357.66 401.63,358.68 401.85,359.76 402.10,360.88 402.37,362.03 402.66,363.22 402.97,364.43 403.31,365.66 403.67,366.91 404.05,368.17 404.46,369.43 404.89,370.70 405.35,371.96 405.84,373.23 406.35,374.50 406.88,375.77 407.44,377.05 408.03,378.32 408.65,379.59 409.30,380.85 409.97,382.11 410.67,383.37 411.39,384.61 412.15,385.85 412.93,387.09 413.75,388.32 414.59,389.54 415.46,390.75 416.36,391.96 417.29,393.16 418.26,394.34 419.25,395.52 420.27,396.68 421.32,397.84 422.40,398.99 423.52,400.12 424.66,401.25 425.84,402.38 427.05,403.49 428.29,404.60 429.56,405.70 430.87,406.79 432.20,407.89 433.57,408.99 434.98,410.08 436.41,411.15 437.88,412.20 439.38,413.21 440.92,414.17 442.48,415.13 444.09,416.08 445.72,417.03 447.39,417.97 449.10,418.91 450.84,419.84 452.61,420.77 454.42,421.69 456.27,422.60 458.14,423.51 460.06,424.41 462.01,425.30 463.99,426.19 466.01,427.07 468.07,427.94 470.16,428.80 472.29,429.66 474.45,430.50 476.66,431.34 478.89,432.17 481.17,432.99 483.48,433.80 485.83,434.60 488.21,435.39 490.63,436.18 493.09,436.96 495.59,437.73 498.12,438.49 500.70,439.25 503.31,440.00 505.95,440.75 508.64,441.49 511.36,442.22 514.13,442.96 516.93,443.67 519.77,444.37 522.65,445.05 525.56,445.72 528.52,446.37 531.52,447.01 534.55,447.64 537.62,448.25 540.74,448.86 543.89,449.46 547.08,450.06 550.32,450.66 553.59,451.26 556.90,451.86 560.25,452.46 563.64,453.06 567.08,453.65 570.55,454.24 574.06,454.83 577.62,455.41 581.21,455.98 584.85,456.56 588.53,457.12 592.25,457.69 596.01,458.24 599.81,458.80 603.65,459.35 607.53,459.89 611.46,460.43 615.42,460.97 619.43,461.50 623.48,462.02 627.58,462.54 631.71,463.06 635.89,463.57 640.11,464.08 644.37,464.58 648.67,465.08 653.02,465.58 657.41,466.06 661.84,466.55 666.32,467.03 670.83,467.51 675.40,467.98 680.00,468.44" fill="none" stroke="#f2aaa6" stroke-width="0.7"/>
<polyline points="399.50,375.00 400.43,386.57 400.43,386.58 400.45,386.66 400.47,386.81 400.51,387.02 400.56,387.32 400.63,387.68 400.72,388.12 400.82,388.61 400.95,389.15 401.09,389.74 401.25,390.36 401.43,391.01 401.63,391.68 401.85,392.36 402.10,393.06 402.37,393.77 402.66,394.48 402.97,395.19 403.31,395.91 403.67,396.63 404.05,397.35 404.46,398.08 404.89,398.82 405.35,399.57 405.84,400.31 406.35,401.05 406.88,401.80 407.44,402.54 408.03,403.28 408.65,404.02 409.30,404.77 409.97,405.51 410.67,406.26 411.39,407.01 412.15,407.76 412.93,408.51 413.75,409.26 414.59,410.01 415.46,410.77 416.36,411.52 417.29,412.28 418.26,413.04 419.25,413.81 420.27,414.58 421.32,415.35 422.40,416.13 423.52,416.90 424.66,417.68 425.84,418.46 427.05,419.24 428.29,420.02 429.56,420.80 430.87,421.58 432.20,422.35 433.57,423.11 434.98,423.87 436.41,424.64 437.88,425.43 439.38,426.26 440.92,427.12 442.48,427.98 444.09,428.84 445.72,429.69 447.39,430.55 449.10,431.41 450.84,432.26 452.61,433.11 454.42,433.97 456.27,434.82 458.14,435.67 460.06,436.52 462.01,437.38 463.99,438.23 466.01,439.09 468.07,439.94 470.16,440.80 472.29,441.66 474.45,442.53 476.66,443.40 478.89,444.27 481.17,445.14 483.48,446.01 485.83,446.89 488.21,447.77 490.63,448.65 493.09,449.54 495.59,450.42 498.12,451.31 500.70,452.19 503.31,453.08 505.95,453.97 508.64,454.85 511.36,455.74 514.13,456.62 516.93,457.51 519.77,458.42 522.65,459.33 525.56,460.26 528.52,461.20 531.52,462.14 534.55,463.09 537.62,464.04 540.74,465.00 543.89,465.95 547.08,466.91 550.32,467.86 553.59,468.81 556.90,469.75 560.25,470.68 563.64,471.61 567.08,472.53 570.55,473.46 574.06,474.39 577.62,475.31 581.21,476.24 584.85,477.16 588.53,478.08 592.25,479.00 596.01,479.93 599.81,480.85 603.65,481.77 607.53,482.69 611.46,483.60 615.42,484.52 619.43,485.44 623.48,486.36 627.58,487.28 631.71,488.19 635.89,489.11 640.11,490.02 644.37,490.94 648.67,491.85 653.02,492.77 657.41,493.68 661.84,494.59 666.32,495.51 670.83,496.42 675.40,497.33 680.00,498.24" fill="none" stroke="#f2aaa6" stroke-width="0.7"/>
<polyline points="399.50,356.50 400.43,388.21 400.43,388.22 400.45,388.24 400.47,388.28 400.51,388.35 400.56,388.44 400.63,388.56 400.72,388.70 400.82,388.87 400.95,389.08 401.09,389.31 401.25,389.58 401.43,389.87 401.63,390.20 401.85,390.55 402.10,390.93 402.37,391.35 402.66,391.79 402.97,392.25 403.31,392.74 403.67,393.25 404.05,393.78 404.46,394.33 404.89,394.88 405.35,395.45 405.84,396.03 406.35,396.63 406.88,397.24 407.44,397.86 408.03,398.49 408.65,399.13 409.30,399.77 409.97,400.42 410.67,401.07 411.39,401.74 412.15,402.42 412.93,403.10 413.75,403.80 414.59,404.50 415.46,405.21 416.36,405.92 417.29,406.63 418.26,407.35 419.25,408.08 420.27,408.80 421.32,409.53 422.40,410.26 423.52,410.99 424.66,411.72 425.84,412.45 427.05,413.18 428.29,413.91 429.56,414.64 430.87,415.37 432.20,416.11 433.57,416.85 434.98,417.58 436.41,418.31 437.88,419.04 439.38,419.76 440.92,420.47 442.48,421.17 444.09,421.85 445.72,422.52 447.39,423.17 449.10,423.80 450.84,424.40 452.61,424.99 454.42,425.58 456.27,426.16 458.14,426.72 460.06,427.27 462.01,427.81 463.99,428.33 466.01,428.82 468.07,429.29 470.16,429.73 472.29,430.15 474.45,430.54 476.66,430.91 478.89,431.25 481.17,431.57 483.48,431.88 485.83,432.16 488.21,432.43 490.63,432.69 493.09,432.93 495.59,433.17 498.12,433.40 500.70,433.62 503.31,433.83 505.95,434.02 508.64,434.20 511.36,434.35 514.13,434.49 516.93,434.61 519.77,434.72 522.65,434.82 525.56,434.90 528.52,434.98 531.52,435.04 534.55,435.11 537.62,435.16 540.74,435.22 543.89,435.27 547.08,435.33 550.32,435.40 553.59,435.47 556.90,435.55 560.25,435.65 563.64,435.75 567.08,435.84 570.55,435.94 574.06,436.04 577.62,436.13 581.21,436.22 584.85,436.31 588.53,436.40 592.25,436.49 596.01,436.57 599.81,436.65 603.65,436.73 607.53,436.80 611.46,436.86 615.42,436.91 619.43,436.96 623.48,437.00 627.58,437.04 631.71,437.07 635.89,437.10 640.11,437.13 644.37,437.15 648.67,437.16 653.02,437.18 657.41,437.19 661.84,437.19 666.32,437.20 670.83,437.20 675.40,437.19 680.00,437.19" fill="none" stroke="#f7eea8" stroke-width="0.7"/>
<polyline points="399.50,380.50 400.43,415.58 400.43,415.58 400.45,415.58 400.47,415.58 400.51,415.59 400.56,415.61 400.63,415.62 400.72,415.64 400.82,415.67 400.95,415.70 401.09,415.73 401.25,415.77 401.43,415.82 401.63,415.87 401.85,415.93 402.10,416.00 402.37,416.07 402.66,416.16 402.97,416.26 403.31,416.37 403.67,416.49 404.05,416.63 404.46,416.79 404.89,416.97 405.35,417.18 405.84,417.40 406.35,417.63 406.88,417.89 407.44,418.16 408.03,418.45 408.65,418.76 409.30,419.09 409.97,419.43 410.67,419.79 411.39,420.16 412.15,420.54 412.93,420.93 413.75,421.32 414.59,421.72 415.46,422.13 416.36,422.55 417.29,422.97 418.26,423.39 419.25,423.82 420.27,424.26 421.32,424.69 422.40,425.13 423.52,425.57 424.66,426.01 425.84,426.45 427.05,426.89 428.29,427.32 429.56,427.75 430.87,428.17 432.20,428.58 433.57,428.98 434.98,429.38 436.41,429.78 437.88,430.17 439.38,430.55 440.92,430.94 442.48,431.32 444.09,431.70 445.72,432.09 447.39,432.49 449.10,432.90 450.84,433.31 452.61,433.72 454.42,434.13 456.27,434.52 458.14,434.92 460.06,435.31 462.01,435.70 463.99,436.10 466.01,436.50 468.07,436.91 470.16,437.33 472.29,437.77 474.45,438.21 476.66,438.66 478.89,439.12 481.17,439.59 483.48,440.05 485.83,440.52 488.21,441.00 490.63,441.46 493.09,441.93 495.59,442.39 498.12,442.84 500.70,443.28 503.31,443.72 505.95,444.16 508.64,444.61 511.36,445.07 514.13,445.52 516.93,445.98 519.77,446.44 522.65,446.90 525.56,447.36 528.52,447.81 531.52,448.26 534.55,448.71 537.62,449.14 540.74,449.57 543.89,449.99 547.08,450.39 550.32,450.77 553.59,451.14 556.90,451.48 560.25,451.80 563.64,452.11 567.08,452.41 570.55,452.70 574.06,452.98 577.62,453.26 581.21,453.53 584.85,453.79 588.53,454.04 592.25,454.29 596.01,454.53 599.81,454.77 603.65,455.00 607.53,455.24 611.46,455.47 615.42,455.70 619.43,455.94 623.48,456.17 627.58,456.40 631.71,456.63 635.89,456.85 640.11,457.08 644.37,457.30 648.67,457.52 653.02,457.73 657.41,457.95 661.84,458.16 666.32,458.37 670.83,458.58 675.40,458.78 680.00,458.99" fill="none" stroke="#f7eea8" stroke-width="0.7"/>
<polyline points="399.50,365.00 400.43,368.97 400.43,369.00 400.45,369.08 400.47,369.25 400.51,369.51 400.56,369.85 400.63,370.28 400.72,370.79 400.82,371.38 400.95,372.04 401.09,372.75 401.25,373.52 401.43,374.33 401.63,375.18 401.85,376.06 402.10,376.97 402.37,377.90 402.66,378.85 402.97,379.81 403.31,380.78 403.67,381.77 404.05,382.76 404.46,383.76 404.89,384.76 405.35,385.76 405.84,386.77 406.35,387.78 406.88,388.78 407.44,389.79 408.03,390.80 408.65,391.81 409.30,392.81 409.97,393.81 410.67,394.81 411.39,395.81 412.15,396.81 412.93,397.80 413.75,398.79 414.59,399.78 415.46,400.76 416.36,401.74 417.29,402.72 418.26,403.69 419.25,404.66 420.27,405.63 421.32,406.60 422.40,407.56 423.52,408.51 424.66,409.47 425.84,410.42 427.05,411.37 428.29,412.31 429.56,413.25 430.87,414.19 432.20,415.12 433.57,416.05 434.98,416.97 436.41,417.90 437.88,418.82 439.38,419.73 440.92,420.65 442.48,421.55 444.09,422.46 445.72,423.36 447.39,424.26 449.10,425.16 450.84,426.05 452.61,426.94 454.42,427.83 456.27,428.71 458.14,429.59 460.06,430.47 462.01,431.34 463.99,432.21 466.01,433.08 468.07,433.94 470.16,434.80 472.29,435.66 474.45,436.52 476.66,437.37 478.89,438.22 481.17,439.06 483.48,439.90 485.83,440.74 488.21,441.58 490.63,442.41 493.09,443.25 495.59,444.07 498.12,444.90 500.70,445.72 503.31,446.54 505.95,447.36 508.64,448.17 511.36,448.98 514.13,449.79 516.93,450.59 519.77,451.39 522.65,452.19 525.56,452.99 528.52,453.78 531.52,454.57 534.55,455.36 537.62,456.15 540.74,456.93 543.89,457.71 547.08,458.49 550.32,459.26 553.59,460.03 556.90,460.80 560.25,461.57 563.64,462.33 567.08,463.09 570.55,463.85 574.06,464.61 577.62,465.36 581.21,466.11 584.85,466.86 588.53,467.60 592.25,468.34 596.01,469.08 599.81,469.82 603.65,470.56 607.53,471.29 611.46,472.02 615.42,472.74 619.43,473.47 623.48,474.19 627.58,474.91 631.71,475.63 635.89,476.34 640.11,477.05 644.37,477.76 648.67,478.47 653.02,479.17 657.41,479.87 661.84,480.57 666.32,481.27 670.83,481.96 675.40,482.65 680.00,483.34" fill="none" stroke="#e24646" stroke-width="1.0" stroke-linejoin="round"/>
<polyline points="399.50,368.50 400.43,401.89 400.43,401.90 400.45,401.91 400.47,401.93 400.51,401.97 400.56,402.02 400.63,402.09 400.72,402.17 400.82,402.27 400.95,402.39 401.09,402.52 401.25,402.67 401.43,402.84 401.63,403.03 401.85,403.24 402.10,403.47 402.37,403.71 402.66,403.97 402.97,404.26 403.31,404.55 403.67,404.87 404.05,405.21 404.46,405.56 404.89,405.93 405.35,406.31 405.84,406.72 406.35,407.13 406.88,407.56 407.44,408.01 408.03,408.47 408.65,408.94 409.30,409.43 409.97,409.93 410.67,410.43 411.39,410.95 412.15,411.48 412.93,412.01 413.75,412.56 414.59,413.11 415.46,413.67 416.36,414.23 417.29,414.80 418.26,415.37 419.25,415.95 420.27,416.53 421.32,417.11 422.40,417.70 423.52,418.28 424.66,418.86 425.84,419.45 427.05,420.03 428.29,420.61 429.56,421.19 430.87,421.77 432.20,422.34 433.57,422.92 434.98,423.48 436.41,424.04 437.88,424.60 439.38,425.16 440.92,425.70 442.48,426.24 444.09,426.78 445.72,427.31 447.39,427.83 449.10,428.35 450.84,428.86 452.61,429.36 454.42,429.85 456.27,430.34 458.14,430.82 460.06,431.29 462.01,431.76 463.99,432.21 466.01,432.66 468.07,433.10 470.16,433.53 472.29,433.96 474.45,434.38 476.66,434.79 478.89,435.19 481.17,435.58 483.48,435.97 485.83,436.34 488.21,436.71 490.63,437.08 493.09,437.43 495.59,437.78 498.12,438.12 500.70,438.45 503.31,438.78 505.95,439.09 508.64,439.40 511.36,439.71 514.13,440.01 516.93,440.30 519.77,440.58 522.65,440.86 525.56,441.13 528.52,441.40 531.52,441.65 534.55,441.91 537.62,442.15 540.74,442.39 543.89,442.63 547.08,442.86 550.32,443.08 553.59,443.30 556.90,443.52 560.25,443.72 563.64,443.93 567.08,444.13 570.55,444.32 574.06,444.51 577.62,444.69 581.21,444.87 584.85,445.05 588.53,445.22 592.25,445.39 596.01,445.55 599.81,445.71 603.65,445.87 607.53,446.02 611.46,446.16 615.42,446.31 619.43,446.45 623.48,446.59 627.58,446.72 631.71,446.85 635.89,446.98 640.11,447.10 644.37,447.22 648.67,447.34 653.02,447.45 657.41,447.57 661.84,447.68 666.32,447.78 670.83,447.89 675.40,447.99 680.00,448.09" fill="none" stroke="#f0da2c" stroke-width="1.0" stroke-linejoin="round"/>
<text x="395.10" y="300.40" text-anchor="end" class="tl">1</text>
<text x="395.10" y="324.90" text-anchor="end" class="tl">0.8</text>
<text x="395.10" y="349.40" text-anchor="end" class="tl">0.6</text>
<text x="395.10" y="373.90" text-anchor="end" class="tl">0.4</text>
<text x="395.10" y="398.40" text-anchor="end" class="tl">0.2</text>
<text x="395.10" y="422.90" text-anchor="end" class="tl">0</text>
<text x="395.10" y="447.40" text-anchor="end" class="tl">-0.2</text>
<text x="395.10" y="471.90" text-anchor="end" class="tl">-0.4</text>
<text x="395.10" y="496.40" text-anchor="end" class="tl">-0.6</text>
<text x="395.10" y="520.90" text-anchor="end" class="tl">-0.8</text>
<text x="399.50" y="527.70" text-anchor="middle" class="tl">0</text>
<text x="446.25" y="527.70" text-anchor="middle" class="tl">50</text>
<text x="493.00" y="527.70" text-anchor="middle" class="tl">100</text>
<text x="539.75" y="527.70" text-anchor="middle" class="tl">150</text>
<text x="586.50" y="527.70" text-anchor="middle" class="tl">200</text>
<text x="633.25" y="527.70" text-anchor="middle" class="tl">250</text>
<text x="680.00" y="527.70" text-anchor="middle" class="tl">300</text>
<path d="M399.50,298.30 h3.4 M399.50,322.80 h3.4 M399.50,347.30 h3.4 M399.50,371.80 h3.4 M399.50,396.30 h3.4 M399.50,420.80 h3.4 M399.50,445.30 h3.4 M399.50,469.80 h3.4 M399.50,494.30 h3.4 M446.25,518.80 v-3.4 M493.00,518.80 v-3.4 M539.75,518.80 v-3.4 M586.50,518.80 v-3.4 M633.25,518.80 v-3.4 M680.00,518.80 v-3.4" stroke="#333" stroke-width="1" fill="none"/>
<line x1="399.50" y1="323.50" x2="399.50" y2="356.70" stroke="#ec7272" stroke-width="1.2"/>
<line x1="416.50" y1="461.30" x2="416.50" y2="472.30" stroke="#ec7272" stroke-width="1.2"/>
<line x1="436.60" y1="406.10" x2="436.60" y2="424.70" stroke="#ec7272" stroke-width="1.2"/>
<line x1="456.40" y1="422.00" x2="456.40" y2="446.30" stroke="#ec7272" stroke-width="1.2"/>
<line x1="511.60" y1="389.20" x2="511.60" y2="408.20" stroke="#ec7272" stroke-width="1.2"/>
<line x1="680.00" y1="468.30" x2="680.00" y2="497.00" stroke="#ec7272" stroke-width="1.2"/>
<line x1="399.50" y1="399.70" x2="399.50" y2="430.50" stroke="#f4e35a" stroke-width="1.2"/>
<line x1="416.30" y1="409.20" x2="416.30" y2="427.70" stroke="#f4e35a" stroke-width="1.2"/>
<line x1="438.40" y1="419.20" x2="438.40" y2="437.10" stroke="#f4e35a" stroke-width="1.2"/>
<line x1="456.50" y1="461.00" x2="456.50" y2="479.50" stroke="#f4e35a" stroke-width="1.2"/>
<line x1="514.90" y1="398.70" x2="514.90" y2="417.40" stroke="#f4e35a" stroke-width="1.2"/>
<line x1="680.30" y1="370.70" x2="680.30" y2="401.70" stroke="#f4e35a" stroke-width="1.2"/>
<rect x="397.75" y="338.35" width="3.5" height="3.5" fill="#e3161d"/>
<rect x="414.75" y="464.75" width="3.5" height="3.5" fill="#e3161d"/>
<rect x="434.85" y="413.55" width="3.5" height="3.5" fill="#e3161d"/>
<rect x="454.65" y="432.45" width="3.5" height="3.5" fill="#e3161d"/>
<rect x="509.85" y="396.95" width="3.5" height="3.5" fill="#e3161d"/>
<rect x="678.25" y="480.35" width="3.5" height="3.5" fill="#e3161d"/>
<circle cx="399.50" cy="415.40" r="1.9" fill="#f2dc0a"/>
<circle cx="416.30" cy="418.60" r="1.9" fill="#f2dc0a"/>
<circle cx="438.40" cy="428.40" r="1.9" fill="#f2dc0a"/>
<circle cx="456.50" cy="470.30" r="1.9" fill="#f2dc0a"/>
<circle cx="514.90" cy="408.20" r="1.9" fill="#f2dc0a"/>
<circle cx="680.30" cy="386.10" r="1.9" fill="#f2dc0a"/>
<rect x="556.10" y="315.50" width="6" height="6" fill="#e3161d"/>
<text x="570.50" y="321.80" class="lg" textLength="110" lengthAdjust="spacingAndGlyphs">Proprioceptive drift async</text>
<circle cx="559.10" cy="332.00" r="3" fill="#f2dc0a"/>
<text x="570.50" y="335.30" class="lg" textLength="102" lengthAdjust="spacingAndGlyphs">Subjective illusion async</text>
<text x="512.90" y="540.40" class="al" textLength="65.3" lengthAdjust="spacingAndGlyphs">Time (seconds)</text>
<text transform="translate(380.20,514.50) rotate(-90)" class="al" textLength="212" lengthAdjust="spacingAndGlyphs">Mean values and SE for the fitted curves (z-score)</text>
<text x="352.20" y="286.70" class="pl">D</text>
</svg>
</body></html>
